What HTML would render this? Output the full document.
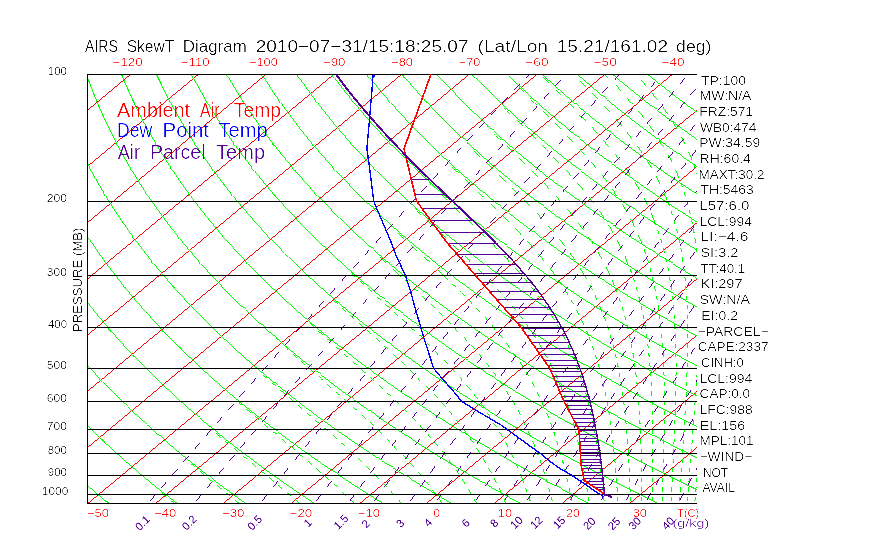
<!DOCTYPE html>
<html><head><meta charset="utf-8"><style>
html,body{margin:0;padding:0;background:#fff;}
svg{display:block;}
text{font-family:"Liberation Sans",sans-serif;}
</style></head><body>
<svg width="870" height="560" viewBox="0 0 870 560">
<defs><filter id="th" x="-5%" y="-30%" width="110%" height="160%"><feComponentTransfer><feFuncA type="linear" slope="2.2" intercept="-1.0"/></feComponentTransfer></filter><filter id="th2" x="-20%" y="-20%" width="140%" height="140%"><feComponentTransfer><feFuncA type="linear" slope="1.5" intercept="-0.2"/></feComponentTransfer></filter><filter id="thl" x="0" y="0" width="1" height="1" color-interpolation-filters="sRGB"><feComponentTransfer><feFuncA type="linear" slope="3" intercept="-0.6"/></feComponentTransfer></filter><clipPath id="box"><rect x="87" y="74" width="610" height="430"/></clipPath></defs>
<rect width="870" height="560" fill="#fff"/>
<g filter="url(#thl)"><g clip-path="url(#box)" fill="none" stroke-width="0.75" shape-rendering="crispEdges">
<g stroke="#ff0000" stroke-width="0.79"><path d="M-725.2,503.7 L-208.2,74.5"/><path d="M-657.5,503.7 L-140.4,74.5"/><path d="M-589.7,503.7 L-72.7,74.5"/><path d="M-522,503.7 L-5,74.5"/><path d="M-454.3,503.7 L62.8,74.5"/><path d="M-386.5,503.7 L130.5,74.5"/><path d="M-318.8,503.7 L198.2,74.5"/><path d="M-251.1,503.7 L265.9,74.5"/><path d="M-183.3,503.7 L333.7,74.5"/><path d="M-115.6,503.7 L401.4,74.5"/><path d="M-47.9,503.7 L469.1,74.5"/><path d="M19.8,503.7 L536.9,74.5"/><path d="M87.6,503.7 L604.6,74.5"/><path d="M155.3,503.7 L672.3,74.5"/><path d="M223,503.7 L740.1,74.5"/><path d="M290.8,503.7 L807.8,74.5"/><path d="M358.5,503.7 L875.5,74.5"/><path d="M426.2,503.7 L943.2,74.5"/><path d="M494,503.7 L1011,74.5"/><path d="M561.7,503.7 L1078.7,74.5"/><path d="M629.4,503.7 L1146.4,74.5"/><path d="M697.1,503.7 L1214.2,74.5"/><path d="M764.9,503.7 L1281.9,74.5"/></g>
<g stroke="#00ff00" stroke-width="0.8"><path d="M108.8,503.7 104.5,500.2 100.3,496.6 96.2,493 92.1,489.4 88,485.9 84,482.3 80,478.7 76.1,475.1 72.3,471.6 68.4,468 64.6,464.4 60.9,460.8 57.2,457.2 53.6,453.7 50,450.1 46.4,446.5 42.9,442.9 39.4,439.4 36,435.8 32.6,432.2 29.3,428.6 26,425 22.7,421.5 19.5,417.9 16.3,414.3 13.2,410.7 10.1,407.2 7.1,403.6 4.1,400 1.1,396.4 -1.8,392.9 -4.7,389.3 -7.6,385.7 -10.4,382.1 -13.1,378.5 -15.8,375 -18.5,371.4"/><path d="M177.5,503.7 172.8,500.2 168.3,496.6 163.7,493 159.2,489.4 154.8,485.9 150.4,482.3 146.1,478.7 141.8,475.1 137.6,471.6 133.4,468 129.2,464.4 125.1,460.8 121.1,457.2 117.1,453.7 113.1,450.1 109.2,446.5 105.3,442.9 101.5,439.4 97.8,435.8 94,432.2 90.3,428.6 86.7,425 83.1,421.5 79.6,417.9 76,414.3 72.6,410.7 69.2,407.2 65.8,403.6 62.5,400 59.2,396.4 55.9,392.9 52.7,389.3 49.5,385.7 46.4,382.1 43.3,378.5 40.3,375 37.3,371.4 34.3,367.8 31.4,364.2 28.5,360.7 25.7,357.1 22.9,353.5 20.2,349.9 17.4,346.4"/><path d="M221.6,485.9 216.8,482.3 212.1,478.7 207.5,475.1 202.9,471.6 198.3,468 193.8,464.4 189.3,460.8 184.9,457.2 180.6,453.7 176.3,450.1 172,446.5 167.8,442.9 163.6,439.4 159.5,435.8 155.4,432.2 151.4,428.6 147.4,425 143.5,421.5 139.6,417.9 135.8,414.3 132,410.7 128.2,407.2 124.5,403.6 120.8,400 117.2,396.4 113.7,392.9 110.1,389.3 106.6,385.7 103.2,382.1 99.8,378.5 96.4,375 93.1,371.4 89.9,367.8 86.6,364.2 83.4,360.7 80.3,357.1 77.2,353.5 74.1,349.9 71.1,346.4 68.1,342.8 65.2,339.2 62.3,335.6 59.4,332 56.6,328.5 53.9,324.9 51.1,321.3 48.4,317.7"/><path d="M253.6,460.8 248.8,457.2 244.1,453.7 239.4,450.1 234.8,446.5 230.2,442.9 225.7,439.4 221.3,435.8 216.8,432.2 212.5,428.6 208.1,425 203.9,421.5 199.6,417.9 195.5,414.3 191.3,410.7 187.3,407.2 183.2,403.6 179.2,400 175.3,396.4 171.4,392.9 167.5,389.3 163.7,385.7 160,382.1 156.3,378.5 152.6,375 149,371.4 145.4,367.8 141.8,364.2 138.3,360.7 134.9,357.1 131.5,353.5 128.1,349.9 124.8,346.4 121.5,342.8 118.3,339.2 115.1,335.6 111.9,332 108.8,328.5 105.8,324.9 102.7,321.3 99.8,317.7 96.8,314.2 93.9,310.6 91,307 88.2,303.4 85.4,299.9 82.7,296.3 80,292.7"/><path d="M283,435.8 278.2,432.2 273.5,428.6 268.9,425 264.3,421.5 259.7,417.9 255.2,414.3 250.7,410.7 246.3,407.2 241.9,403.6 237.6,400 233.4,396.4 229.1,392.9 225,389.3 220.8,385.7 216.7,382.1 212.7,378.5 208.7,375 204.8,371.4 200.9,367.8 197.1,364.2 193.2,360.7 189.5,357.1 185.8,353.5 182.1,349.9 178.5,346.4 174.9,342.8 171.4,339.2 167.9,335.6 164.4,332 161,328.5 157.7,324.9 154.4,321.3 151.1,317.7 147.9,314.2 144.7,310.6 141.5,307 138.4,303.4 135.3,299.9 132.3,296.3 129.3,292.7 126.4,289.1 123.5,285.5 120.6,282 117.8,278.4 115,274.8 112.3,271.2 109.6,267.7"/><path d="M310.1,410.7 305.3,407.2 300.7,403.6 296,400 291.4,396.4 286.9,392.9 282.4,389.3 277.9,385.7 273.5,382.1 269.2,378.5 264.9,375 260.6,371.4 256.4,367.8 252.3,364.2 248.2,360.7 244.1,357.1 240.1,353.5 236.1,349.9 232.2,346.4 228.3,342.8 224.5,339.2 220.7,335.6 216.9,332 213.2,328.5 209.6,324.9 206,321.3 202.4,317.7 198.9,314.2 195.4,310.6 192,307 188.6,303.4 185.3,299.9 182,296.3 178.7,292.7 175.5,289.1 172.3,285.5 169.2,282 166.1,278.4 163,274.8 160,271.2 157,267.7 154.1,264.1 151.2,260.5 148.4,256.9 145.6,253.4 142.8,249.8 140.1,246.2 137.4,242.6"/><path d="M339.8,389.3 335,385.7 330.3,382.1 325.6,378.5 321,375 316.5,371.4 311.9,367.8 307.5,364.2 303.1,360.7 298.7,357.1 294.4,353.5 290.1,349.9 285.9,346.4 281.7,342.8 277.6,339.2 273.5,335.6 269.4,332 265.4,328.5 261.5,324.9 257.6,321.3 253.8,317.7 249.9,314.2 246.2,310.6 242.5,307 238.8,303.4 235.2,299.9 231.6,296.3 228.1,292.7 224.6,289.1 221.1,285.5 217.7,282 214.3,278.4 211,274.8 207.7,271.2 204.5,267.7 201.3,264.1 198.2,260.5 195,256.9 192,253.4 188.9,249.8 186,246.2 183,242.6 180.1,239 177.2,235.5 174.4,231.9 171.6,228.3 168.9,224.7 166.2,221.2"/><path d="M362.7,364.2 358,360.7 353.3,357.1 348.7,353.5 344.1,349.9 339.5,346.4 335.1,342.8 330.6,339.2 326.3,335.6 321.9,332 317.6,328.5 313.4,324.9 309.2,321.3 305.1,317.7 301,314.2 296.9,310.6 293,307 289,303.4 285.1,299.9 281.2,296.3 277.4,292.7 273.6,289.1 269.9,285.5 266.2,282 262.6,278.4 259,274.8 255.5,271.2 252,267.7 248.5,264.1 245.1,260.5 241.7,256.9 238.4,253.4 235.1,249.8 231.9,246.2 228.7,242.6 225.5,239 222.4,235.5 219.3,231.9 216.3,228.3 213.3,224.7 210.3,221.2 207.4,217.6 204.5,214 201.7,210.4 198.9,206.9 196.1,203.3 193.4,199.7"/><path d="M388.5,342.8 383.7,339.2 379.1,335.6 374.4,332 369.9,328.5 365.3,324.9 360.8,321.3 356.4,317.7 352,314.2 347.7,310.6 343.4,307 339.2,303.4 335,299.9 330.9,296.3 326.8,292.7 322.7,289.1 318.7,285.5 314.8,282 310.9,278.4 307,274.8 303.2,271.2 299.4,267.7 295.7,264.1 292,260.5 288.4,256.9 284.8,253.4 281.3,249.8 277.8,246.2 274.3,242.6 270.9,239 267.5,235.5 264.2,231.9 260.9,228.3 257.6,224.7 254.4,221.2 251.3,217.6 248.2,214 245.1,210.4 242.1,206.9 239.1,203.3 236.1,199.7 233.2,196.1 230.3,192.5 227.5,189 224.7,185.4 221.9,181.8 219.2,178.2"/><path d="M417.2,324.9 412.5,321.3 407.8,317.7 403.1,314.2 398.5,310.6 393.9,307 389.4,303.4 384.9,299.9 380.5,296.3 376.1,292.7 371.8,289.1 367.5,285.5 363.3,282 359.1,278.4 355,274.8 350.9,271.2 346.9,267.7 342.9,264.1 339,260.5 335.1,256.9 331.2,253.4 327.4,249.8 323.7,246.2 319.9,242.6 316.3,239 312.6,235.5 309.1,231.9 305.5,228.3 302,224.7 298.6,221.2 295.2,217.6 291.8,214 288.5,210.4 285.2,206.9 282,203.3 278.8,199.7 275.6,196.1 272.5,192.5 269.4,189 266.4,185.4 263.4,181.8 260.5,178.2 257.6,174.7 254.7,171.1 251.9,167.5 249.1,163.9 246.4,160.3 243.7,156.8"/><path d="M439.6,303.4 434.8,299.9 430.1,296.3 425.5,292.7 420.9,289.1 416.4,285.5 411.9,282 407.4,278.4 403,274.8 398.7,271.2 394.4,267.7 390.1,264.1 385.9,260.5 381.7,256.9 377.6,253.4 373.6,249.8 369.5,246.2 365.6,242.6 361.7,239 357.8,235.5 353.9,231.9 350.2,228.3 346.4,224.7 342.7,221.2 339.1,217.6 335.4,214 331.9,210.4 328.4,206.9 324.9,203.3 321.5,199.7 318.1,196.1 314.7,192.5 311.4,189 308.1,185.4 304.9,181.8 301.8,178.2 298.6,174.7 295.5,171.1 292.5,167.5 289.5,163.9 286.5,160.3 283.6,156.8 280.7,153.2 277.8,149.6 275,146 272.2,142.5 269.5,138.9 266.8,135.3"/><path d="M460.4,282 455.7,278.4 451,274.8 446.4,271.2 441.8,267.7 437.3,264.1 432.8,260.5 428.4,256.9 424,253.4 419.7,249.8 415.4,246.2 411.2,242.6 407,239 402.9,235.5 398.8,231.9 394.8,228.3 390.8,224.7 386.8,221.2 382.9,217.6 379.1,214 375.3,210.4 371.5,206.9 367.8,203.3 364.1,199.7 360.5,196.1 356.9,192.5 353.4,189 349.9,185.4 346.4,181.8 343,178.2 339.7,174.7 336.3,171.1 333,167.5 329.8,163.9 326.6,160.3 323.5,156.8 320.3,153.2 317.3,149.6 314.2,146 311.3,142.5 308.3,138.9 305.4,135.3 302.5,131.7 299.7,128.2 296.9,124.6 294.2,121 291.5,117.4"/><path d="M484.5,264.1 479.8,260.5 475.1,256.9 470.5,253.4 465.9,249.8 461.3,246.2 456.9,242.6 452.4,239 448,235.5 443.7,231.9 439.4,228.3 435.2,224.7 431,221.2 426.8,217.6 422.7,214 418.7,210.4 414.7,206.9 410.7,203.3 406.8,199.7 402.9,196.1 399.1,192.5 395.3,189 391.6,185.4 387.9,181.8 384.3,178.2 380.7,174.7 377.1,171.1 373.6,167.5 370.2,163.9 366.7,160.3 363.4,156.8 360,153.2 356.7,149.6 353.5,146 350.3,142.5 347.1,138.9 344,135.3 340.9,131.7 337.9,128.2 334.9,124.6 331.9,121 329,117.4 326.1,113.8 323.3,110.3 320.5,106.7 317.7,103.1 315,99.5"/><path d="M507.2,246.2 502.5,242.6 497.8,239 493.2,235.5 488.6,231.9 484,228.3 479.5,224.7 475.1,221.2 470.7,217.6 466.4,214 462.1,210.4 457.8,206.9 453.6,203.3 449.5,199.7 445.4,196.1 441.3,192.5 437.3,189 433.3,185.4 429.4,181.8 425.5,178.2 421.7,174.7 417.9,171.1 414.2,167.5 410.5,163.9 406.9,160.3 403.3,156.8 399.7,153.2 396.2,149.6 392.7,146 389.3,142.5 385.9,138.9 382.6,135.3 379.3,131.7 376,128.2 372.8,124.6 369.6,121 366.5,117.4 363.4,113.8 360.4,110.3 357.4,106.7 354.4,103.1 351.5,99.5 348.6,96 345.7,92.4 342.9,88.8 340.2,85.2 337.4,81.7 334.8,78.1"/><path d="M528.7,228.3 523.9,224.7 519.2,221.2 514.6,217.6 510,214 505.5,210.4 501,206.9 496.5,203.3 492.2,199.7 487.8,196.1 483.5,192.5 479.3,189 475.1,185.4 470.9,181.8 466.8,178.2 462.8,174.7 458.7,171.1 454.8,167.5 450.9,163.9 447,160.3 443.2,156.8 439.4,153.2 435.6,149.6 432,146 428.3,142.5 424.7,138.9 421.2,135.3 417.6,131.7 414.2,128.2 410.7,124.6 407.4,121 404,117.4 400.7,113.8 397.5,110.3 394.3,106.7 391.1,103.1 388,99.5 384.9,96 381.8,92.4 378.8,88.8 375.8,85.2 372.9,81.7 370,78.1 367.2,74.5"/><path d="M548.9,210.4 544.1,206.9 539.5,203.3 534.8,199.7 530.2,196.1 525.7,192.5 521.2,189 516.8,185.4 512.4,181.8 508.1,178.2 503.8,174.7 499.6,171.1 495.4,167.5 491.2,163.9 487.1,160.3 483.1,156.8 479.1,153.2 475.1,149.6 471.2,146 467.3,142.5 463.5,138.9 459.7,135.3 456,131.7 452.3,128.2 448.7,124.6 445.1,121 441.5,117.4 438,113.8 434.6,110.3 431.1,106.7 427.8,103.1 424.4,99.5 421.1,96 417.9,92.4 414.7,88.8 411.5,85.2 408.4,81.7 405.3,78.1 402.3,74.5"/><path d="M572.7,196.1 567.9,192.5 563.2,189 558.5,185.4 553.9,181.8 549.3,178.2 544.8,174.7 540.4,171.1 535.9,167.5 531.6,163.9 527.2,160.3 523,156.8 518.7,153.2 514.6,149.6 510.4,146 506.3,142.5 502.3,138.9 498.3,135.3 494.4,131.7 490.5,128.2 486.6,124.6 482.8,121 479.1,117.4 475.3,113.8 471.7,110.3 468,106.7 464.5,103.1 460.9,99.5 457.4,96 454,92.4 450.6,88.8 447.2,85.2 443.9,81.7 440.6,78.1 437.4,74.5"/><path d="M590.6,178.2 585.9,174.7 581.2,171.1 576.5,167.5 571.9,163.9 567.4,160.3 562.9,156.8 558.4,153.2 554,149.6 549.7,146 545.4,142.5 541.1,138.9 536.9,135.3 532.7,131.7 528.6,128.2 524.6,124.6 520.5,121 516.6,117.4 512.6,113.8 508.8,110.3 504.9,106.7 501.1,103.1 497.4,99.5 493.7,96 490,92.4 486.4,88.8 482.9,85.2 479.4,81.7 475.9,78.1 472.4,74.5"/><path d="M607.5,160.3 602.8,156.8 598.1,153.2 593.5,149.6 588.9,146 584.4,142.5 579.9,138.9 575.5,135.3 571.1,131.7 566.8,128.2 562.5,124.6 558.3,121 554.1,117.4 550,113.8 545.9,110.3 541.8,106.7 537.8,103.1 533.9,99.5 530,96 526.1,92.4 522.3,88.8 518.5,85.2 514.8,81.7 511.2,78.1 507.5,74.5"/><path d="M628.1,146 623.4,142.5 618.7,138.9 614.1,135.3 609.5,131.7 604.9,128.2 600.5,124.6 596,121 591.6,117.4 587.3,113.8 583,110.3 578.7,106.7 574.5,103.1 570.4,99.5 566.3,96 562.2,92.4 558.2,88.8 554.2,85.2 550.3,81.7 546.4,78.1 542.6,74.5"/><path d="M647.9,131.7 643.1,128.2 638.4,124.6 633.7,121 629.1,117.4 624.6,113.8 620.1,110.3 615.6,106.7 611.2,103.1 606.9,99.5 602.5,96 598.3,92.4 594.1,88.8 589.9,85.2 585.8,81.7 581.7,78.1 577.7,74.5"/><path d="M666.7,117.4 661.9,113.8 657.2,110.3 652.5,106.7 647.9,103.1 643.3,99.5 638.8,96 634.4,92.4 629.9,88.8 625.6,85.2 621.3,81.7 617,78.1 612.8,74.5"/><path d="M684.6,103.1 679.8,99.5 675.1,96 670.4,92.4 665.8,88.8 661.3,85.2 656.7,81.7 652.3,78.1 647.8,74.5"/></g>
<g stroke="#00ff00" stroke-width="0.9"><path d="M-18.5,371.4 -21.2,367.8 -23.8,364.2 -26.4,360.7 -28.9,357.1 -31.4,353.5 -33.8,349.9 -36.3,346.4 -38.6,342.8 -41,339.2 -43.3,335.6 -45.5,332 -47.8,328.5 -50,324.9 -52.1,321.3 -54.3,317.7 -56.3,314.2 -58.4,310.6 -60.4,307 -62.4,303.4 -64.3,299.9 -66.2,296.3 -68.1,292.7 -70,289.1 -71.8,285.5 -73.5,282 -75.3,278.4"/><path d="M17.4,346.4 14.8,342.8 12.1,339.2 9.5,335.6 7,332 4.4,328.5 1.9,324.9 -0.5,321.3 -2.9,317.7 -5.3,314.2 -7.6,310.6 -9.9,307 -12.2,303.4 -14.4,299.9 -16.6,296.3 -18.8,292.7 -20.9,289.1 -23,285.5 -25,282 -27,278.4 -29,274.8 -30.9,271.2 -32.8,267.7 -34.7,264.1 -36.5,260.5 -38.3,256.9 -40.1,253.4 -41.8,249.8"/><path d="M246.1,503.7 241.1,500.2 236.2,496.6 231.3,493 226.4,489.4 221.6,485.9"/><path d="M48.4,317.7 45.8,314.2 43.1,310.6 40.6,307 38,303.4 35.5,299.9 33,296.3 30.6,292.7 28.2,289.1 25.9,285.5 23.5,282 21.3,278.4 19,274.8 16.8,271.2 14.6,267.7 12.5,264.1 10.4,260.5 8.3,256.9 6.3,253.4 4.3,249.8 2.4,246.2 0.5,242.6 -1.4,239 -3.3,235.5 -5.1,231.9 -6.9,228.3 -8.6,224.7"/><path d="M314.8,503.7 309.4,500.2 304.1,496.6 298.8,493 293.6,489.4 288.4,485.9 283.3,482.3 278.2,478.7 273.1,475.1 268.2,471.6 263.3,468 258.4,464.4 253.6,460.8"/><path d="M80,292.7 77.3,289.1 74.7,285.5 72.1,282 69.5,278.4 67,274.8 64.5,271.2 62.1,267.7 59.7,264.1 57.3,260.5 55,256.9 52.7,253.4 50.5,249.8 48.3,246.2 46.1,242.6 43.9,239 41.8,235.5 39.8,231.9 37.7,228.3 35.7,224.7 33.8,221.2 31.8,217.6 30,214 28.1,210.4 26.3,206.9 24.5,203.3 22.7,199.7"/><path d="M383.5,503.7 377.7,500.2 372,496.6 366.3,493 360.7,489.4 355.2,485.9 349.7,482.3 344.2,478.7 338.8,475.1 333.5,471.6 328.2,468 323,464.4 317.8,460.8 312.7,457.2 307.6,453.7 302.6,450.1 297.6,446.5 292.7,442.9 287.8,439.4 283,435.8"/><path d="M109.6,267.7 106.9,264.1 104.3,260.5 101.7,256.9 99.1,253.4 96.6,249.8 94.2,246.2 91.7,242.6 89.3,239 87,235.5 84.7,231.9 82.4,228.3 80.1,224.7 77.9,221.2 75.7,217.6 73.6,214 71.5,210.4 69.4,206.9 67.4,203.3 65.4,199.7 63.4,196.1 61.5,192.5 59.6,189 57.8,185.4 55.9,181.8 54.2,178.2 52.4,174.7"/><path d="M452.2,503.7 446,500.2 439.9,496.6 433.9,493 427.9,489.4 421.9,485.9 416.1,482.3 410.3,478.7 404.5,475.1 398.8,471.6 393.1,468 387.5,464.4 382,460.8 376.5,457.2 371.1,453.7 365.7,450.1 360.4,446.5 355.1,442.9 349.9,439.4 344.8,435.8 339.6,432.2 334.6,428.6 329.6,425 324.6,421.5 319.7,417.9 314.9,414.3 310.1,410.7"/><path d="M137.4,242.6 134.7,239 132.1,235.5 129.5,231.9 127,228.3 124.5,224.7 122,221.2 119.6,217.6 117.2,214 114.9,210.4 112.6,206.9 110.3,203.3 108.1,199.7 105.9,196.1 103.7,192.5 101.6,189 99.5,185.4 97.4,181.8 95.4,178.2 93.4,174.7 91.5,171.1 89.6,167.5 87.7,163.9 85.9,160.3 84,156.8 82.3,153.2 80.5,149.6"/><path d="M520.9,503.7 514.3,500.2 507.8,496.6 501.4,493 495,489.4 488.7,485.9 482.5,482.3 476.3,478.7 470.2,475.1 464.1,471.6 458.1,468 452.1,464.4 446.2,460.8 440.4,457.2 434.6,453.7 428.9,450.1 423.2,446.5 417.6,442.9 412,439.4 406.5,435.8 401.1,432.2 395.7,428.6 390.3,425 385,421.5 379.8,417.9 374.6,414.3 369.5,410.7 364.4,407.2 359.4,403.6 354.4,400 349.5,396.4 344.6,392.9 339.8,389.3"/><path d="M166.2,221.2 163.5,217.6 160.9,214 158.3,210.4 155.7,206.9 153.2,203.3 150.8,199.7 148.3,196.1 145.9,192.5 143.6,189 141.2,185.4 138.9,181.8 136.7,178.2 134.5,174.7 132.3,171.1 130.2,167.5 128,163.9 126,160.3 123.9,156.8 121.9,153.2 120,149.6 118.1,146 116.2,142.5 114.3,138.9 112.5,135.3 110.7,131.7 108.9,128.2"/><path d="M589.6,503.7 582.6,500.2 575.8,496.6 568.9,493 562.2,489.4 555.5,485.9 548.9,482.3 542.3,478.7 535.8,475.1 529.4,471.6 523,468 516.7,464.4 510.4,460.8 504.2,457.2 498.1,453.7 492,450.1 486,446.5 480,442.9 474.1,439.4 468.3,435.8 462.5,432.2 456.7,428.6 451,425 445.4,421.5 439.8,417.9 434.3,414.3 428.8,410.7 423.4,407.2 418.1,403.6 412.8,400 407.5,396.4 402.3,392.9 397.2,389.3 392.1,385.7 387.1,382.1 382.1,378.5 377.2,375 372.3,371.4 367.5,367.8 362.7,364.2"/><path d="M193.4,199.7 190.8,196.1 188.1,192.5 185.5,189 183,185.4 180.4,181.8 178,178.2 175.5,174.7 173.1,171.1 170.7,167.5 168.4,163.9 166.1,160.3 163.8,156.8 161.6,153.2 159.4,149.6 157.3,146 155.2,142.5 153.1,138.9 151.1,135.3 149.1,131.7 147.1,128.2 145.1,124.6 143.2,121 141.4,117.4 139.5,113.8 137.8,110.3 136,106.7"/><path d="M658.2,503.7 650.9,500.2 643.7,496.6 636.5,493 629.4,489.4 622.3,485.9 615.3,482.3 608.4,478.7 601.5,475.1 594.7,471.6 588,468 581.3,464.4 574.7,460.8 568.1,457.2 561.6,453.7 555.2,450.1 548.8,446.5 542.5,442.9 536.2,439.4 530,435.8 523.9,432.2 517.8,428.6 511.8,425 505.8,421.5 499.9,417.9 494,414.3 488.2,410.7 482.5,407.2 476.8,403.6 471.2,400 465.6,396.4 460.1,392.9 454.6,389.3 449.2,385.7 443.9,382.1 438.6,378.5 433.3,375 428.1,371.4 423,367.8 417.9,364.2 412.9,360.7 407.9,357.1 402.9,353.5 398.1,349.9 393.2,346.4 388.5,342.8"/><path d="M219.2,178.2 216.5,174.7 213.9,171.1 211.3,167.5 208.8,163.9 206.2,160.3 203.8,156.8 201.3,153.2 198.9,149.6 196.5,146 194.2,142.5 191.9,138.9 189.6,135.3 187.4,131.7 185.2,128.2 183.1,124.6 181,121 178.9,117.4 176.9,113.8 174.9,110.3 172.9,106.7 170.9,103.1 169,99.5 167.2,96 165.4,92.4 163.6,88.8 161.8,85.2"/><path d="M689.1,485.9 681.7,482.3 674.4,478.7 667.2,475.1 660,471.6 652.9,468 645.9,464.4 638.9,460.8 632,457.2 625.1,453.7 618.3,450.1 611.6,446.5 604.9,442.9 598.3,439.4 591.8,435.8 585.3,432.2 578.8,428.6 572.5,425 566.2,421.5 559.9,417.9 553.7,414.3 547.6,410.7 541.5,407.2 535.5,403.6 529.6,400 523.7,396.4 517.8,392.9 512,389.3 506.3,385.7 500.6,382.1 495,378.5 489.5,375 483.9,371.4 478.5,367.8 473.1,364.2 467.8,360.7 462.5,357.1 457.2,353.5 452,349.9 446.9,346.4 441.8,342.8 436.8,339.2 431.8,335.6 426.9,332 422.1,328.5 417.2,324.9"/><path d="M243.7,156.8 241,153.2 238.4,149.6 235.8,146 233.2,142.5 230.7,138.9 228.2,135.3 225.8,131.7 223.4,128.2 221,124.6 218.7,121 216.4,117.4 214.2,113.8 212,110.3 209.8,106.7 207.6,103.1 205.5,99.5 203.5,96 201.4,92.4 199.4,88.8 197.5,85.2 195.5,81.7 193.6,78.1 191.8,74.5"/><path d="M710.4,464.4 703.1,460.8 695.8,457.2 688.6,453.7 681.5,450.1 674.4,446.5 667.4,442.9 660.4,439.4 653.5,435.8 646.7,432.2 639.9,428.6 633.2,425 626.6,421.5 620,417.9 613.4,414.3 607,410.7 600.6,407.2 594.2,403.6 588,400 581.7,396.4 575.6,392.9 569.5,389.3 563.4,385.7 557.4,382.1 551.5,378.5 545.6,375 539.8,371.4 534,367.8 528.3,364.2 522.7,360.7 517.1,357.1 511.5,353.5 506,349.9 500.6,346.4 495.2,342.8 489.9,339.2 484.6,335.6 479.4,332 474.3,328.5 469.2,324.9 464.1,321.3 459.1,317.7 454.1,314.2 449.2,310.6 444.4,307 439.6,303.4"/><path d="M266.8,135.3 264.2,131.7 261.5,128.2 259,124.6 256.4,121 253.9,117.4 251.5,113.8 249.1,110.3 246.7,106.7 244.3,103.1 242,99.5 239.7,96 237.5,92.4 235.3,88.8 233.1,85.2 231,81.7 228.9,78.1 226.9,74.5"/><path d="M737.2,446.5 729.8,442.9 722.5,439.4 715.3,435.8 708.1,432.2 701,428.6 693.9,425 686.9,421.5 680,417.9 673.2,414.3 666.4,410.7 659.6,407.2 653,403.6 646.3,400 639.8,396.4 633.3,392.9 626.9,389.3 620.5,385.7 614.2,382.1 607.9,378.5 601.7,375 595.6,371.4 589.5,367.8 583.5,364.2 577.6,360.7 571.7,357.1 565.8,353.5 560,349.9 554.3,346.4 548.6,342.8 543,339.2 537.4,335.6 531.9,332 526.5,328.5 521.1,324.9 515.7,321.3 510.4,317.7 505.2,314.2 500,310.6 494.9,307 489.8,303.4 484.8,299.9 479.8,296.3 474.9,292.7 470,289.1 465.2,285.5 460.4,282"/><path d="M291.5,117.4 288.8,113.8 286.2,110.3 283.6,106.7 281,103.1 278.5,99.5 276,96 273.6,92.4 271.2,88.8 268.8,85.2 266.5,81.7 264.2,78.1 261.9,74.5"/><path d="M754.6,425 747.3,421.5 740.1,417.9 732.9,414.3 725.7,410.7 718.7,407.2 711.7,403.6 704.7,400 697.9,396.4 691,392.9 684.3,389.3 677.6,385.7 671,382.1 664.4,378.5 657.9,375 651.4,371.4 645.1,367.8 638.7,364.2 632.5,360.7 626.3,357.1 620.1,353.5 614,349.9 608,346.4 602,342.8 596.1,339.2 590.2,335.6 584.4,332 578.7,328.5 573,324.9 567.3,321.3 561.8,317.7 556.2,314.2 550.8,310.6 545.3,307 540,303.4 534.7,299.9 529.4,296.3 524.2,292.7 519.1,289.1 514,285.5 508.9,282 503.9,278.4 499,274.8 494.1,271.2 489.3,267.7 484.5,264.1"/><path d="M315,99.5 312.3,96 309.7,92.4 307.1,88.8 304.5,85.2 302,81.7 299.5,78.1 297,74.5"/><path d="M777.7,407.2 770.4,403.6 763.1,400 755.9,396.4 748.8,392.9 741.7,389.3 734.7,385.7 727.7,382.1 720.9,378.5 714,375 707.3,371.4 700.6,367.8 693.9,364.2 687.4,360.7 680.8,357.1 674.4,353.5 668,349.9 661.7,346.4 655.4,342.8 649.2,339.2 643,335.6 636.9,332 630.9,328.5 624.9,324.9 619,321.3 613.1,317.7 607.3,314.2 601.5,310.6 595.8,307 590.2,303.4 584.6,299.9 579.1,296.3 573.6,292.7 568.2,289.1 562.8,285.5 557.5,282 552.2,278.4 547,274.8 541.9,271.2 536.8,267.7 531.7,264.1 526.7,260.5 521.8,256.9 516.9,253.4 512,249.8 507.2,246.2"/><path d="M334.8,78.1 332.1,74.5"/><path d="M799.1,389.3 791.8,385.7 784.5,382.1 777.3,378.5 770.2,375 763.1,371.4 756.1,367.8 749.1,364.2 742.3,360.7 735.4,357.1 728.7,353.5 722,349.9 715.3,346.4 708.8,342.8 702.3,339.2 695.8,335.6 689.4,332 683.1,328.5 676.8,324.9 670.6,321.3 664.4,317.7 658.3,314.2 652.3,310.6 646.3,307 640.4,303.4 634.5,299.9 628.7,296.3 622.9,292.7 617.2,289.1 611.6,285.5 606,282 600.5,278.4 595,274.8 589.6,271.2 584.2,267.7 578.9,264.1 573.6,260.5 568.4,256.9 563.3,253.4 558.2,249.8 553.1,246.2 548.1,242.6 543.2,239 538.3,235.5 533.5,231.9 528.7,228.3"/><path d="M818.9,371.4 811.6,367.8 804.4,364.2 797.2,360.7 790,357.1 783,353.5 776,349.9 769,346.4 762.2,342.8 755.3,339.2 748.6,335.6 741.9,332 735.3,328.5 728.7,324.9 722.2,321.3 715.8,317.7 709.4,314.2 703.1,310.6 696.8,307 690.6,303.4 684.4,299.9 678.3,296.3 672.3,292.7 666.3,289.1 660.4,285.5 654.6,282 648.8,278.4 643,274.8 637.3,271.2 631.7,267.7 626.1,264.1 620.6,260.5 615.1,256.9 609.7,253.4 604.3,249.8 599,246.2 593.8,242.6 588.6,239 583.4,235.5 578.3,231.9 573.3,228.3 568.3,224.7 563.4,221.2 558.5,217.6 553.7,214 548.9,210.4"/><path d="M844.6,357.1 837.3,353.5 830,349.9 822.7,346.4 815.5,342.8 808.4,339.2 801.4,335.6 794.4,332 787.5,328.5 780.6,324.9 773.8,321.3 767.1,317.7 760.4,314.2 753.8,310.6 747.3,307 740.8,303.4 734.3,299.9 728,296.3 721.7,292.7 715.4,289.1 709.2,285.5 703.1,282 697,278.4 691,274.8 685,271.2 679.1,267.7 673.3,264.1 667.5,260.5 661.8,256.9 656.1,253.4 650.5,249.8 644.9,246.2 639.4,242.6 634,239 628.6,235.5 623.2,231.9 617.9,228.3 612.7,224.7 607.5,221.2 602.4,217.6 597.3,214 592.3,210.4 587.3,206.9 582.4,203.3 577.5,199.7 572.7,196.1"/><path d="M861.5,339.2 854.2,335.6 846.9,332 839.7,328.5 832.5,324.9 825.5,321.3 818.4,317.7 811.5,314.2 804.6,310.6 797.7,307 791,303.4 784.3,299.9 777.6,296.3 771,292.7 764.5,289.1 758,285.5 751.6,282 745.3,278.4 739,274.8 732.8,271.2 726.6,267.7 720.5,264.1 714.5,260.5 708.5,256.9 702.5,253.4 696.6,249.8 690.8,246.2 685.1,242.6 679.4,239 673.7,235.5 668.1,231.9 662.6,228.3 657.1,224.7 651.6,221.2 646.3,217.6 640.9,214 635.7,210.4 630.5,206.9 625.3,203.3 620.2,199.7 615.1,196.1 610.1,192.5 605.2,189 600.3,185.4 595.4,181.8 590.6,178.2"/><path d="M884.5,324.9 877.1,321.3 869.8,317.7 862.5,314.2 855.3,310.6 848.2,307 841.2,303.4 834.2,299.9 827.3,296.3 820.4,292.7 813.6,289.1 806.9,285.5 800.2,282 793.6,278.4 787,274.8 780.5,271.2 774.1,267.7 767.7,264.1 761.4,260.5 755.1,256.9 748.9,253.4 742.8,249.8 736.7,246.2 730.7,242.6 724.7,239 718.8,235.5 713,231.9 707.2,228.3 701.5,224.7 695.8,221.2 690.1,217.6 684.6,214 679.1,210.4 673.6,206.9 668.2,203.3 662.9,199.7 657.6,196.1 652.3,192.5 647.1,189 642,185.4 636.9,181.8 631.9,178.2 626.9,174.7 622,171.1 617.1,167.5 612.3,163.9 607.5,160.3"/><path d="M898.7,307 891.4,303.4 884.1,299.9 876.9,296.3 869.8,292.7 862.7,289.1 855.7,285.5 848.7,282 841.8,278.4 835,274.8 828.2,271.2 821.5,267.7 814.9,264.1 808.3,260.5 801.8,256.9 795.4,253.4 789,249.8 782.6,246.2 776.3,242.6 770.1,239 764,235.5 757.9,231.9 751.8,228.3 745.8,224.7 739.9,221.2 734,217.6 728.2,214 722.5,210.4 716.8,206.9 711.1,203.3 705.5,199.7 700,196.1 694.5,192.5 689.1,189 683.7,185.4 678.4,181.8 673.1,178.2 667.9,174.7 662.8,171.1 657.7,167.5 652.6,163.9 647.6,160.3 642.7,156.8 637.8,153.2 632.9,149.6 628.1,146"/><path d="M919.1,292.7 911.8,289.1 904.5,285.5 897.3,282 890.1,278.4 883,274.8 876,271.2 869,267.7 862.1,264.1 855.3,260.5 848.5,256.9 841.8,253.4 835.1,249.8 828.5,246.2 822,242.6 815.5,239 809.1,235.5 802.7,231.9 796.4,228.3 790.2,224.7 784,221.2 777.9,217.6 771.9,214 765.9,210.4 759.9,206.9 754,203.3 748.2,199.7 742.4,196.1 736.7,192.5 731.1,189 725.5,185.4 719.9,181.8 714.4,178.2 709,174.7 703.6,171.1 698.3,167.5 693,163.9 687.8,160.3 682.6,156.8 677.5,153.2 672.4,149.6 667.4,146 662.4,142.5 657.5,138.9 652.7,135.3 647.9,131.7"/><path d="M938.4,278.4 931,274.8 923.7,271.2 916.5,267.7 909.3,264.1 902.2,260.5 895.2,256.9 888.2,253.4 881.3,249.8 874.4,246.2 867.6,242.6 860.9,239 854.2,235.5 847.6,231.9 841.1,228.3 834.6,224.7 828.2,221.2 821.8,217.6 815.5,214 809.3,210.4 803.1,206.9 796.9,203.3 790.9,199.7 784.9,196.1 778.9,192.5 773,189 767.2,185.4 761.4,181.8 755.7,178.2 750,174.7 744.4,171.1 738.8,167.5 733.3,163.9 727.9,160.3 722.5,156.8 717.1,153.2 711.9,149.6 706.6,146 701.4,142.5 696.3,138.9 691.2,135.3 686.2,131.7 681.3,128.2 676.3,124.6 671.5,121 666.7,117.4"/><path d="M956.5,264.1 949.1,260.5 941.8,256.9 934.6,253.4 927.4,249.8 920.3,246.2 913.3,242.6 906.3,239 899.4,235.5 892.5,231.9 885.7,228.3 879,224.7 872.3,221.2 865.7,217.6 859.1,214 852.7,210.4 846.2,206.9 839.9,203.3 833.6,199.7 827.3,196.1 821.1,192.5 815,189 808.9,185.4 802.9,181.8 796.9,178.2 791,174.7 785.2,171.1 779.4,167.5 773.7,163.9 768,160.3 762.4,156.8 756.8,153.2 751.3,149.6 745.9,146 740.5,142.5 735.1,138.9 729.8,135.3 724.6,131.7 719.4,128.2 714.3,124.6 709.2,121 704.2,117.4 699.2,113.8 694.3,110.3 689.4,106.7 684.6,103.1"/></g>
<g stroke="#00ff00" stroke-width="1.0"><path d="M-75.3,278.4 -77,274.8 -78.6,271.2 -80.3,267.7 -81.9,264.1 -83.5,260.5 -85,256.9 -86.5,253.4 -88,249.8 -89.4,246.2 -90.8,242.6 -92.2,239 -93.6,235.5 -94.9,231.9 -96.1,228.3 -97.4,224.7 -98.6,221.2 -99.8,217.6 -101,214 -102.1,210.4 -103.2,206.9 -104.3,203.3 -105.3,199.7 -106.3,196.1 -107.3,192.5 -108.2,189 -109.2,185.4 -110,181.8 -110.9,178.2 -111.7,174.7 -112.5,171.1 -113.3,167.5 -114.1,163.9 -114.8,160.3 -115.5,156.8 -116.1,153.2 -116.8,149.6 -117.4,146 -118,142.5 -118.5,138.9 -119,135.3 -119.5,131.7 -120,128.2 -120.4,124.6 -120.9,121 -121.3,117.4 -121.6,113.8 -122,110.3 -122.3,106.7 -122.6,103.1 -122.8,99.5 -123.1,96 -123.3,92.4 -123.5,88.8 -123.6,85.2 -123.8,81.7 -123.9,78.1 -124,74.5"/><path d="M-41.8,249.8 -43.5,246.2 -45.2,242.6 -46.8,239 -48.4,235.5 -50,231.9 -51.5,228.3 -53,224.7 -54.5,221.2 -55.9,217.6 -57.3,214 -58.7,210.4 -60,206.9 -61.3,203.3 -62.6,199.7 -63.9,196.1 -65.1,192.5 -66.3,189 -67.4,185.4 -68.5,181.8 -69.6,178.2 -70.7,174.7 -71.7,171.1 -72.7,167.5 -73.7,163.9 -74.7,160.3 -75.6,156.8 -76.5,153.2 -77.3,149.6 -78.1,146 -78.9,142.5 -79.7,138.9 -80.4,135.3 -81.2,131.7 -81.8,128.2 -82.5,124.6 -83.1,121 -83.7,117.4 -84.3,113.8 -84.9,110.3 -85.4,106.7 -85.9,103.1 -86.3,99.5 -86.8,96 -87.2,92.4 -87.6,88.8 -87.9,85.2 -88.3,81.7 -88.6,78.1 -88.9,74.5"/><path d="M-8.6,224.7 -10.4,221.2 -12,217.6 -13.7,214 -15.3,210.4 -16.9,206.9 -18.4,203.3 -19.9,199.7 -21.4,196.1 -22.9,192.5 -24.3,189 -25.7,185.4 -27,181.8 -28.4,178.2 -29.7,174.7 -30.9,171.1 -32.2,167.5 -33.4,163.9 -34.5,160.3 -35.7,156.8 -36.8,153.2 -37.9,149.6 -38.9,146 -39.9,142.5 -40.9,138.9 -41.9,135.3 -42.8,131.7 -43.7,128.2 -44.6,124.6 -45.4,121 -46.2,117.4 -47,113.8 -47.8,110.3 -48.5,106.7 -49.2,103.1 -49.9,99.5 -50.5,96 -51.1,92.4 -51.7,88.8 -52.3,85.2 -52.8,81.7 -53.3,78.1 -53.8,74.5"/><path d="M22.7,199.7 21,196.1 19.3,192.5 17.7,189 16,185.4 14.4,181.8 12.9,178.2 11.4,174.7 9.9,171.1 8.4,167.5 7,163.9 5.6,160.3 4.2,156.8 2.9,153.2 1.6,149.6 0.3,146 -0.9,142.5 -2.1,138.9 -3.3,135.3 -4.4,131.7 -5.5,128.2 -6.6,124.6 -7.7,121 -8.7,117.4 -9.7,113.8 -10.7,110.3 -11.6,106.7 -12.5,103.1 -13.4,99.5 -14.2,96 -15,92.4 -15.8,88.8 -16.6,85.2 -17.3,81.7 -18,78.1 -18.7,74.5"/><path d="M52.4,174.7 50.7,171.1 49,167.5 47.3,163.9 45.7,160.3 44.1,156.8 42.6,153.2 41.1,149.6 39.6,146 38.1,142.5 36.7,138.9 35.3,135.3 33.9,131.7 32.6,128.2 31.3,124.6 30.1,121 28.8,117.4 27.6,113.8 26.4,110.3 25.3,106.7 24.2,103.1 23.1,99.5 22.1,96 21,92.4 20,88.8 19.1,85.2 18.2,81.7 17.3,78.1 16.4,74.5"/><path d="M80.5,149.6 78.8,146 77.1,142.5 75.5,138.9 73.9,135.3 72.3,131.7 70.8,128.2 69.3,124.6 67.8,121 66.3,117.4 64.9,113.8 63.5,110.3 62.2,106.7 60.9,103.1 59.6,99.5 58.3,96 57.1,92.4 55.9,88.8 54.8,85.2 53.6,81.7 52.5,78.1 51.5,74.5"/><path d="M108.9,128.2 107.2,124.6 105.5,121 103.9,117.4 102.2,113.8 100.7,110.3 99.1,106.7 97.6,103.1 96.1,99.5 94.6,96 93.2,92.4 91.8,88.8 90.4,85.2 89.1,81.7 87.8,78.1 86.5,74.5"/><path d="M136,106.7 134.3,103.1 132.6,99.5 130.9,96 129.3,92.4 127.7,88.8 126.1,85.2 124.6,81.7 123.1,78.1 121.6,74.5"/><path d="M161.8,85.2 160.1,81.7 158.4,78.1 156.7,74.5"/><path d="M726.9,503.7 719.2,500.2 711.6,496.6 704,493 696.5,489.4 689.1,485.9"/><path d="M795.6,503.7 787.5,500.2 779.5,496.6 771.6,493 763.7,489.4 755.9,485.9 748.1,482.3 740.5,478.7 732.9,475.1 725.3,471.6 717.8,468 710.4,464.4"/><path d="M864.3,503.7 855.8,500.2 847.4,496.6 839.1,493 830.8,489.4 822.7,485.9 814.5,482.3 806.5,478.7 798.5,475.1 790.6,471.6 782.8,468 775,464.4 767.3,460.8 759.7,457.2 752.1,453.7 744.6,450.1 737.2,446.5"/><path d="M933,503.7 924.1,500.2 915.3,496.6 906.6,493 898,489.4 889.4,485.9 881,482.3 872.5,478.7 864.2,475.1 855.9,471.6 847.7,468 839.6,464.4 831.5,460.8 823.5,457.2 815.6,453.7 807.8,450.1 800,446.5 792.2,442.9 784.6,439.4 777,435.8 769.5,432.2 762,428.6 754.6,425"/><path d="M1001.6,503.7 992.4,500.2 983.2,496.6 974.2,493 965.2,489.4 956.2,485.9 947.4,482.3 938.6,478.7 929.9,475.1 921.2,471.6 912.7,468 904.2,464.4 895.8,460.8 887.4,457.2 879.1,453.7 870.9,450.1 862.8,446.5 854.7,442.9 846.7,439.4 838.8,435.8 830.9,432.2 823.1,428.6 815.4,425 807.7,421.5 800.1,417.9 792.6,414.3 785.1,410.7 777.7,407.2"/><path d="M1070.3,503.7 1060.7,500.2 1051.2,496.6 1041.7,493 1032.3,489.4 1023,485.9 1013.8,482.3 1004.6,478.7 995.5,475.1 986.5,471.6 977.6,468 968.8,464.4 960,460.8 951.3,457.2 942.6,453.7 934.1,450.1 925.6,446.5 917.1,442.9 908.8,439.4 900.5,435.8 892.3,432.2 884.2,428.6 876.1,425 868.1,421.5 860.2,417.9 852.3,414.3 844.5,410.7 836.8,407.2 829.1,403.6 821.5,400 814,396.4 806.5,392.9 799.1,389.3"/><path d="M1139,503.7 1129,500.2 1119.1,496.6 1109.2,493 1099.5,489.4 1089.8,485.9 1080.2,482.3 1070.7,478.7 1061.2,475.1 1051.8,471.6 1042.6,468 1033.3,464.4 1024.2,460.8 1015.1,457.2 1006.1,453.7 997.2,450.1 988.4,446.5 979.6,442.9 970.9,439.4 962.3,435.8 953.7,432.2 945.2,428.6 936.8,425 928.5,421.5 920.2,417.9 912,414.3 903.9,410.7 895.8,407.2 887.8,403.6 879.9,400 872,396.4 864.3,392.9 856.5,389.3 848.9,385.7 841.3,382.1 833.8,378.5 826.3,375 818.9,371.4"/><path d="M1207.7,503.7 1197.3,500.2 1187,496.6 1176.8,493 1166.6,489.4 1156.6,485.9 1146.6,482.3 1136.7,478.7 1126.9,475.1 1117.2,471.6 1107.5,468 1097.9,464.4 1088.4,460.8 1079,457.2 1069.6,453.7 1060.4,450.1 1051.2,446.5 1042,442.9 1033,439.4 1024,435.8 1015.1,432.2 1006.3,428.6 997.5,425 988.9,421.5 980.2,417.9 971.7,414.3 963.2,410.7 954.9,407.2 946.5,403.6 938.3,400 930.1,396.4 922,392.9 913.9,389.3 906,385.7 898.1,382.1 890.2,378.5 882.5,375 874.8,371.4 867.1,367.8 859.6,364.2 852.1,360.7 844.6,357.1"/><path d="M1276.4,503.7 1265.6,500.2 1254.9,496.6 1244.3,493 1233.8,489.4 1223.4,485.9 1213,482.3 1202.8,478.7 1192.6,475.1 1182.5,471.6 1172.4,468 1162.5,464.4 1152.6,460.8 1142.8,457.2 1133.1,453.7 1123.5,450.1 1114,446.5 1104.5,442.9 1095.1,439.4 1085.8,435.8 1076.5,432.2 1067.3,428.6 1058.3,425 1049.2,421.5 1040.3,417.9 1031.4,414.3 1022.6,410.7 1013.9,407.2 1005.2,403.6 996.7,400 988.2,396.4 979.7,392.9 971.4,389.3 963.1,385.7 954.8,382.1 946.7,378.5 938.6,375 930.6,371.4 922.7,367.8 914.8,364.2 907,360.7 899.2,357.1 891.6,353.5 883.9,349.9 876.4,346.4 868.9,342.8 861.5,339.2"/><path d="M1345,503.7 1333.9,500.2 1322.8,496.6 1311.9,493 1301,489.4 1290.2,485.9 1279.4,482.3 1268.8,478.7 1258.2,475.1 1247.8,471.6 1237.4,468 1227.1,464.4 1216.8,460.8 1206.7,457.2 1196.6,453.7 1186.7,450.1 1176.7,446.5 1166.9,442.9 1157.2,439.4 1147.5,435.8 1137.9,432.2 1128.4,428.6 1119,425 1109.6,421.5 1100.3,417.9 1091.1,414.3 1082,410.7 1072.9,407.2 1064,403.6 1055.1,400 1046.2,396.4 1037.5,392.9 1028.8,389.3 1020.2,385.7 1011.6,382.1 1003.2,378.5 994.8,375 986.4,371.4 978.2,367.8 970,364.2 961.9,360.7 953.8,357.1 945.8,353.5 937.9,349.9 930.1,346.4 922.3,342.8 914.6,339.2 907,335.6 899.4,332 891.9,328.5 884.5,324.9"/><path d="M1413.7,503.7 1402.2,500.2 1390.7,496.6 1379.4,493 1368.1,489.4 1356.9,485.9 1345.8,482.3 1334.8,478.7 1323.9,475.1 1313.1,471.6 1302.3,468 1291.6,464.4 1281.1,460.8 1270.6,457.2 1260.1,453.7 1249.8,450.1 1239.5,446.5 1229.4,442.9 1219.3,439.4 1209.3,435.8 1199.3,432.2 1189.5,428.6 1179.7,425 1170,421.5 1160.4,417.9 1150.8,414.3 1141.4,410.7 1132,407.2 1122.7,403.6 1113.4,400 1104.3,396.4 1095.2,392.9 1086.2,389.3 1077.3,385.7 1068.4,382.1 1059.6,378.5 1050.9,375 1042.3,371.4 1033.7,367.8 1025.2,364.2 1016.8,360.7 1008.4,357.1 1000.1,353.5 991.9,349.9 983.8,346.4 975.7,342.8 967.7,339.2 959.8,335.6 951.9,332 944.1,328.5 936.4,324.9 928.7,321.3 921.1,317.7 913.6,314.2 906.1,310.6 898.7,307"/><path d="M1482.4,503.7 1470.5,500.2 1458.7,496.6 1446.9,493 1435.3,489.4 1423.7,485.9 1412.3,482.3 1400.9,478.7 1389.6,475.1 1378.4,471.6 1367.3,468 1356.2,464.4 1345.3,460.8 1334.4,457.2 1323.6,453.7 1312.9,450.1 1302.3,446.5 1291.8,442.9 1281.4,439.4 1271,435.8 1260.7,432.2 1250.5,428.6 1240.4,425 1230.4,421.5 1220.4,417.9 1210.6,414.3 1200.8,410.7 1191,407.2 1181.4,403.6 1171.8,400 1162.4,396.4 1152.9,392.9 1143.6,389.3 1134.4,385.7 1125.2,382.1 1116.1,378.5 1107,375 1098.1,371.4 1089.2,367.8 1080.4,364.2 1071.7,360.7 1063,357.1 1054.4,353.5 1045.9,349.9 1037.5,346.4 1029.1,342.8 1020.8,339.2 1012.6,335.6 1004.4,332 996.3,328.5 988.3,324.9 980.3,321.3 972.4,317.7 964.6,314.2 956.9,310.6 949.2,307 941.6,303.4 934,299.9 926.5,296.3 919.1,292.7"/><path d="M1551.1,503.7 1538.8,500.2 1526.6,496.6 1514.5,493 1502.4,489.4 1490.5,485.9 1478.7,482.3 1466.9,478.7 1455.3,475.1 1443.7,471.6 1432.2,468 1420.8,464.4 1409.5,460.8 1398.3,457.2 1387.1,453.7 1376.1,450.1 1365.1,446.5 1354.3,442.9 1343.5,439.4 1332.8,435.8 1322.1,432.2 1311.6,428.6 1301.1,425 1290.8,421.5 1280.5,417.9 1270.3,414.3 1260.1,410.7 1250.1,407.2 1240.1,403.6 1230.2,400 1220.4,396.4 1210.7,392.9 1201,389.3 1191.5,385.7 1182,382.1 1172.5,378.5 1163.2,375 1153.9,371.4 1144.7,367.8 1135.6,364.2 1126.6,360.7 1117.6,357.1 1108.7,353.5 1099.9,349.9 1091.1,346.4 1082.5,342.8 1073.9,339.2 1065.3,335.6 1056.9,332 1048.5,328.5 1040.2,324.9 1031.9,321.3 1023.8,317.7 1015.7,314.2 1007.6,310.6 999.7,307 991.8,303.4 983.9,299.9 976.2,296.3 968.5,292.7 960.9,289.1 953.3,285.5 945.8,282 938.4,278.4"/><path d="M1619.8,503.7 1607.1,500.2 1594.5,496.6 1582,493 1569.6,489.4 1557.3,485.9 1545.1,482.3 1533,478.7 1520.9,475.1 1509,471.6 1497.1,468 1485.4,464.4 1473.7,460.8 1462.1,457.2 1450.6,453.7 1439.2,450.1 1427.9,446.5 1416.7,442.9 1405.6,439.4 1394.5,435.8 1383.5,432.2 1372.7,428.6 1361.9,425 1351.2,421.5 1340.5,417.9 1330,414.3 1319.5,410.7 1309.1,407.2 1298.8,403.6 1288.6,400 1278.5,396.4 1268.4,392.9 1258.4,389.3 1248.5,385.7 1238.7,382.1 1229,378.5 1219.3,375 1209.8,371.4 1200.3,367.8 1190.8,364.2 1181.5,360.7 1172.2,357.1 1163,353.5 1153.9,349.9 1144.8,346.4 1135.9,342.8 1127,339.2 1118.1,335.6 1109.4,332 1100.7,328.5 1092.1,324.9 1083.6,321.3 1075.1,317.7 1066.7,314.2 1058.4,310.6 1050.1,307 1042,303.4 1033.9,299.9 1025.8,296.3 1017.8,292.7 1009.9,289.1 1002.1,285.5 994.3,282 986.6,278.4 979,274.8 971.4,271.2 963.9,267.7 956.5,264.1"/></g>
<g stroke="#00ff00" stroke-width="1.0" stroke-dasharray="4.2 5.4" stroke-dashoffset="7.1"><path d="M-89.4,246.2 -90.8,242.6 -92.2,239 -93.6,235.5 -94.9,231.9 -96.1,228.3 -97.4,224.7 -98.6,221.2 -99.8,217.6 -101,214 -102.1,210.4 -103.2,206.9 -104.3,203.3 -105.3,199.7 -106.3,196.1 -107.3,192.5 -108.2,189 -109.2,185.4 -110,181.8 -110.9,178.2 -111.7,174.7 -112.5,171.1 -113.3,167.5 -114.1,163.9 -114.8,160.3 -115.5,156.8 -116.1,153.2 -116.8,149.6 -117.4,146 -118,142.5 -118.5,138.9 -119,135.3 -119.5,131.7 -120,128.2 -120.4,124.6 -120.9,121 -121.3,117.4 -121.6,113.8"/><path d="M-55.9,217.6 -57.3,214 -58.7,210.4 -60,206.9 -61.3,203.3 -62.6,199.7 -63.9,196.1 -65.1,192.5 -66.3,189 -67.4,185.4 -68.5,181.8 -69.6,178.2 -70.7,174.7 -71.7,171.1 -72.7,167.5 -73.7,163.9 -74.7,160.3 -75.6,156.8 -76.5,153.2 -77.3,149.6 -78.1,146 -78.9,142.5 -79.7,138.9 -80.4,135.3 -81.2,131.7 -81.8,128.2 -82.5,124.6 -83.1,121 -83.7,117.4 -84.3,113.8 -84.9,110.3 -85.4,106.7 -85.9,103.1 -86.3,99.5 -86.8,96 -87.2,92.4 -87.6,88.8"/><path d="M-22.9,192.5 -24.3,189 -25.7,185.4 -27,181.8 -28.4,178.2 -29.7,174.7 -30.9,171.1 -32.2,167.5 -33.4,163.9 -34.5,160.3 -35.7,156.8 -36.8,153.2 -37.9,149.6 -38.9,146 -39.9,142.5 -40.9,138.9 -41.9,135.3 -42.8,131.7 -43.7,128.2 -44.6,124.6 -45.4,121 -46.2,117.4 -47,113.8 -47.8,110.3 -48.5,106.7 -49.2,103.1 -49.9,99.5 -50.5,96 -51.1,92.4 -51.7,88.8 -52.3,85.2 -52.8,81.7 -53.3,78.1 -53.8,74.5"/><path d="M8.4,167.5 7,163.9 5.6,160.3 4.2,156.8 2.9,153.2 1.6,149.6 0.3,146 -0.9,142.5 -2.1,138.9 -3.3,135.3 -4.4,131.7 -5.5,128.2 -6.6,124.6 -7.7,121 -8.7,117.4 -9.7,113.8 -10.7,110.3 -11.6,106.7 -12.5,103.1 -13.4,99.5 -14.2,96 -15,92.4 -15.8,88.8 -16.6,85.2 -17.3,81.7 -18,78.1 -18.7,74.5"/><path d="M38.1,142.5 36.7,138.9 35.3,135.3 33.9,131.7 32.6,128.2 31.3,124.6 30.1,121 28.8,117.4 27.6,113.8 26.4,110.3 25.3,106.7 24.2,103.1 23.1,99.5 22.1,96 21,92.4 20,88.8 19.1,85.2 18.2,81.7 17.3,78.1 16.4,74.5"/><path d="M66.3,117.4 64.9,113.8 63.5,110.3 62.2,106.7 60.9,103.1 59.6,99.5 58.3,96 57.1,92.4 55.9,88.8 54.8,85.2 53.6,81.7 52.5,78.1 51.5,74.5"/><path d="M94.6,96 93.2,92.4 91.8,88.8 90.4,85.2 89.1,81.7 87.8,78.1 86.5,74.5"/><path d="M531.1,503.7 529.9,500.2 528.7,496.6 527.5,493 526.2,489.4 524.9,485.9 523.5,482.3 522.1,478.7"/><path d="M552.9,503.7 552,500.2 551.1,496.6 550.2,493 549.2,489.4 548.2,485.9 547.1,482.3 546.1,478.7 545,475.1 543.9,471.6 542.7,468 541.5,464.4 540.3,460.8 539,457.2 537.7,453.7 536.3,450.1 534.9,446.5"/><path d="M572.1,503.7 571.4,500.2 570.7,496.6 570,493 569.3,489.4 568.5,485.9 567.8,482.3 567,478.7 566.1,475.1 565.3,471.6 564.4,468 563.5,464.4 562.6,460.8 561.6,457.2 560.6,453.7 559.6,450.1 558.5,446.5 557.4,442.9 556.3,439.4 555.1,435.8 553.9,432.2 552.7,428.6 551.4,425 550,421.5 548.6,417.9"/><path d="M589.1,503.7 588.6,500.2 588.1,496.6 587.6,493 587,489.4 586.5,485.9 585.9,482.3 585.4,478.7 584.8,475.1 584.1,471.6 583.5,468 582.8,464.4 582.1,460.8 581.4,457.2 580.7,453.7 579.9,450.1 579.2,446.5 578.3,442.9 577.5,439.4 576.6,435.8 575.7,432.2 574.8,428.6 573.8,425 572.8,421.5 571.8,417.9 570.7,414.3 569.5,410.7 568.4,407.2 567.2,403.6 565.9,400 564.6,396.4 563.3,392.9 561.9,389.3"/><path d="M604.3,503.7 604,500.2 603.6,496.6 603.3,493 602.9,489.4 602.5,485.9 602.1,482.3 601.7,478.7 601.3,475.1 600.8,471.6 600.4,468 599.9,464.4 599.4,460.8 598.9,457.2 598.4,453.7 597.9,450.1 597.3,446.5 596.7,442.9 596.1,439.4 595.5,435.8 594.8,432.2 594.1,428.6 593.4,425 592.7,421.5 591.9,417.9 591.1,414.3 590.3,410.7 589.4,407.2 588.6,403.6 587.6,400 586.7,396.4 585.7,392.9 584.6,389.3 583.5,385.7 582.4,382.1 581.2,378.5 580,375 578.7,371.4 577.4,367.8 576.1,364.2 574.7,360.7"/><path d="M618,503.7 617.8,500.2 617.6,496.6 617.4,493 617.1,489.4 616.9,485.9 616.6,482.3 616.4,478.7 616.1,475.1 615.8,471.6 615.5,468 615.2,464.4 614.9,460.8 614.5,457.2 614.2,453.7 613.8,450.1 613.4,446.5 613,442.9 612.6,439.4 612.2,435.8 611.7,432.2 611.3,428.6 610.8,425 610.3,421.5 609.7,417.9 609.2,414.3 608.6,410.7 608,407.2 607.3,403.6 606.7,400 606,396.4 605.2,392.9 604.5,389.3 603.7,385.7 602.9,382.1 602,378.5 601.1,375 600.2,371.4 599.2,367.8 598.2,364.2 597.1,360.7 596,357.1 594.9,353.5 593.7,349.9 592.4,346.4 591.1,342.8 589.8,339.2 588.4,335.6"/><path d="M630.5,503.7 630.4,500.2 630.3,496.6 630.1,493 630,489.4 629.9,485.9 629.8,482.3 629.6,478.7 629.5,475.1 629.3,471.6 629.1,468 629,464.4 628.8,460.8 628.6,457.2 628.4,453.7 628.1,450.1 627.9,446.5 627.7,442.9 627.4,439.4 627.1,435.8 626.9,432.2 626.6,428.6 626.2,425 625.9,421.5 625.5,417.9 625.2,414.3 624.8,410.7 624.4,407.2 623.9,403.6 623.5,400 623,396.4 622.5,392.9 622,389.3 621.4,385.7 620.9,382.1 620.3,378.5 619.6,375 619,371.4 618.3,367.8 617.5,364.2 616.8,360.7 616,357.1 615.1,353.5 614.2,349.9 613.3,346.4 612.4,342.8 611.4,339.2 610.3,335.6 609.2,332 608.1,328.5 606.9,324.9 605.7,321.3 604.4,317.7 603,314.2 601.6,310.6"/><path d="M641.9,503.7 641.9,500.2 641.8,496.6 641.8,493 641.8,489.4 641.8,485.9 641.7,482.3 641.7,478.7 641.6,475.1 641.6,471.6 641.5,468 641.4,464.4 641.4,460.8 641.3,457.2 641.2,453.7 641.1,450.1 641,446.5 640.9,442.9 640.7,439.4 640.6,435.8 640.5,432.2 640.3,428.6 640.1,425 639.9,421.5 639.8,417.9 639.5,414.3 639.3,410.7 639.1,407.2 638.8,403.6 638.5,400 638.2,396.4 637.9,392.9 637.6,389.3 637.2,385.7 636.9,382.1 636.5,378.5 636,375 635.6,371.4 635.1,367.8 634.6,364.2 634.1,360.7 633.6,357.1 633,353.5 632.4,349.9 631.7,346.4 631,342.8 630.3,339.2 629.6,335.6 628.8,332 628,328.5 627.1,324.9 626.2,321.3 625.2,317.7 624.2,314.2 623.2,310.6 622.1,307 620.9,303.4 619.7,299.9 618.5,296.3 617.2,292.7 615.8,289.1 614.4,285.5"/><path d="M652.4,503.7 652.4,500.2 652.5,496.6 652.5,493 652.6,489.4 652.6,485.9 652.7,482.3 652.7,478.7 652.7,475.1 652.8,471.6 652.8,468 652.8,464.4 652.9,460.8 652.9,457.2 652.9,453.7 652.9,450.1 652.9,446.5 652.9,442.9 652.9,439.4 652.8,435.8 652.8,432.2 652.8,428.6 652.7,425 652.7,421.5 652.6,417.9 652.5,414.3 652.4,410.7 652.3,407.2 652.2,403.6 652.1,400 651.9,396.4 651.8,392.9 651.6,389.3 651.4,385.7 651.2,382.1 651,378.5 650.7,375 650.5,371.4 650.2,367.8 649.9,364.2 649.6,360.7 649.2,357.1 648.8,353.5 648.4,349.9 648,346.4 647.6,342.8 647.1,339.2 646.6,335.6 646.1,332 645.5,328.5 644.9,324.9 644.2,321.3 643.6,317.7 642.9,314.2 642.1,310.6 641.3,307 640.5,303.4 639.6,299.9 638.7,296.3 637.8,292.7 636.7,289.1 635.7,285.5 634.6,282 633.4,278.4 632.2,274.8 630.9,271.2 629.6,267.7 628.2,264.1"/><path d="M662.1,503.7 662.2,500.2 662.3,496.6 662.4,493 662.5,489.4 662.6,485.9 662.8,482.3 662.9,478.7 663,475.1 663.1,471.6 663.2,468 663.3,464.4 663.4,460.8 663.5,457.2 663.6,453.7 663.7,450.1 663.8,446.5 663.9,442.9 663.9,439.4 664,435.8 664.1,432.2 664.1,428.6 664.2,425 664.2,421.5 664.3,417.9 664.3,414.3 664.3,410.7 664.3,407.2 664.3,403.6 664.3,400 664.3,396.4 664.3,392.9 664.3,389.3 664.2,385.7 664.1,382.1 664.1,378.5 664,375 663.9,371.4 663.7,367.8 663.6,364.2 663.4,360.7 663.2,357.1 663.1,353.5 662.8,349.9 662.6,346.4 662.3,342.8 662.1,339.2 661.8,335.6 661.4,332 661.1,328.5 660.7,324.9 660.3,321.3 659.8,317.7 659.4,314.2 658.9,310.6 658.3,307 657.8,303.4 657.2,299.9 656.5,296.3 655.9,292.7 655.1,289.1 654.4,285.5 653.6,282 652.7,278.4 651.9,274.8 650.9,271.2 649.9,267.7 648.9,264.1 647.8,260.5 646.7,256.9 645.5,253.4 644.2,249.8 642.9,246.2 641.5,242.6"/><path d="M671.1,503.7 671.2,500.2 671.4,496.6 671.6,493 671.8,489.4 671.9,485.9 672.1,482.3 672.3,478.7 672.5,475.1 672.6,471.6 672.8,468 673,464.4 673.1,460.8 673.3,457.2 673.5,453.7 673.6,450.1 673.8,446.5 674,442.9 674.1,439.4 674.3,435.8 674.4,432.2 674.6,428.6 674.7,425 674.9,421.5 675,417.9 675.1,414.3 675.2,410.7 675.3,407.2 675.4,403.6 675.5,400 675.6,396.4 675.7,392.9 675.8,389.3 675.8,385.7 675.9,382.1 675.9,378.5 676,375 676,371.4 676,367.8 676,364.2 676,360.7 675.9,357.1 675.9,353.5 675.8,349.9 675.7,346.4 675.6,342.8 675.5,339.2 675.4,335.6 675.2,332 675,328.5 674.8,324.9 674.6,321.3 674.4,317.7 674.1,314.2 673.8,310.6 673.5,307 673.2,303.4 672.8,299.9 672.4,296.3 671.9,292.7 671.5,289.1 671,285.5 670.4,282 669.8,278.4 669.2,274.8 668.6,271.2 667.9,267.7 667.2,264.1 666.4,260.5 665.6,256.9 664.7,253.4 663.8,249.8 662.8,246.2 661.8,242.6 660.7,239 659.6,235.5 658.4,231.9 657.1,228.3 655.8,224.7 654.4,221.2"/><path d="M679.5,503.7 679.7,500.2 679.9,496.6 680.1,493 680.3,489.4 680.6,485.9 680.8,482.3 681,478.7 681.2,475.1 681.5,471.6 681.7,468 681.9,464.4 682.2,460.8 682.4,457.2 682.6,453.7 682.9,450.1 683.1,446.5 683.3,442.9 683.5,439.4 683.8,435.8 684,432.2 684.2,428.6 684.4,425 684.6,421.5 684.8,417.9 685,414.3 685.2,410.7 685.4,407.2 685.6,403.6 685.8,400 686,396.4 686.2,392.9 686.3,389.3 686.5,385.7 686.6,382.1 686.8,378.5 686.9,375 687.1,371.4 687.2,367.8 687.3,364.2 687.4,360.7 687.5,357.1 687.5,353.5 687.6,349.9 687.6,346.4 687.7,342.8 687.7,339.2 687.7,335.6 687.7,332 687.7,328.5 687.6,324.9 687.6,321.3 687.5,317.7 687.4,314.2 687.2,310.6 687.1,307 686.9,303.4 686.8,299.9 686.5,296.3 686.3,292.7 686,289.1 685.7,285.5 685.4,282 685.1,278.4 684.7,274.8 684.3,271.2 683.8,267.7 683.4,264.1 682.8,260.5 682.3,256.9 681.7,253.4 681.1,249.8 680.4,246.2 679.7,242.6 678.9,239 678.1,235.5 677.2,231.9 676.3,228.3 675.3,224.7 674.3,221.2 673.2,217.6 672.1,214 670.9,210.4 669.7,206.9 668.3,203.3 666.9,199.7"/><path d="M687.3,503.7 687.6,500.2 687.8,496.6 688.1,493 688.4,489.4 688.6,485.9 688.9,482.3 689.2,478.7 689.4,475.1 689.7,471.6 690,468 690.3,464.4 690.6,460.8 690.8,457.2 691.1,453.7 691.4,450.1 691.7,446.5 692,442.9 692.3,439.4 692.6,435.8 692.8,432.2 693.1,428.6 693.4,425 693.7,421.5 694,417.9 694.2,414.3 694.5,410.7 694.8,407.2 695,403.6 695.3,400 695.6,396.4 695.8,392.9 696.1,389.3 696.3,385.7 696.5,382.1 696.8,378.5 697,375 697.2,371.4 697.4,367.8 697.6,364.2 697.8,360.7 698,357.1 698.2,353.5 698.4,349.9 698.5,346.4 698.7,342.8 698.8,339.2 698.9,335.6 699,332 699.1,328.5 699.2,324.9 699.3,321.3 699.3,317.7 699.4,314.2 699.4,310.6 699.4,307 699.4,303.4 699.4,299.9 699.3,296.3 699.2,292.7 699.2,289.1 699,285.5 698.9,282 698.7,278.4 698.5,274.8 698.3,271.2 698.1,267.7 697.8,264.1 697.5,260.5 697.2,256.9 696.8,253.4 696.4,249.8 696,246.2 695.5,242.6 695,239 694.5,235.5 693.9,231.9 693.3,228.3 692.6,224.7 691.9,221.2 691.1,217.6 690.3,214 689.4,210.4 688.5,206.9 687.5,203.3 686.5,199.7 685.4,196.1 684.3,192.5 683.1,189 681.8,185.4 680.5,181.8 679.1,178.2"/><path d="M694.7,503.7 695,500.2 695.3,496.6 695.6,493 695.9,489.4 696.2,485.9 696.5,482.3 696.8,478.7 697.1,475.1 697.4,471.6 697.8,468 698.1,464.4 698.4,460.8 698.7,457.2 699.1,453.7 699.4,450.1 699.7,446.5 700.1,442.9 700.4,439.4 700.7,435.8 701.1,432.2 701.4,428.6 701.8,425 702.1,421.5 702.4,417.9 702.8,414.3 703.1,410.7 703.4,407.2 703.7,403.6 704.1,400 704.4,396.4 704.7,392.9 705,389.3 705.4,385.7 705.7,382.1 706,378.5 706.3,375 706.6,371.4 706.9,367.8 707.2,364.2 707.4,360.7 707.7,357.1 708,353.5 708.2,349.9 708.5,346.4 708.7,342.8 709,339.2 709.2,335.6 709.4,332 709.6,328.5 709.8,324.9 710,321.3 710.2,317.7 710.3,314.2 710.5,310.6 710.6,307 710.7,303.4 710.8,299.9 710.9,296.3 711,292.7 711,289.1 711.1,285.5 711.1,282 711.1,278.4 711.1,274.8 711,271.2 710.9,267.7 710.8,264.1 710.7,260.5 710.6,256.9 710.4,253.4 710.2,249.8 710,246.2 709.7,242.6 709.5,239 709.1,235.5 708.8,231.9 708.4,228.3 708,224.7 707.5,221.2 707,217.6 706.5,214 705.9,210.4 705.2,206.9 704.6,203.3 703.8,199.7 703.1,196.1 702.2,192.5 701.4,189 700.4,185.4 699.5,181.8 698.4,178.2 697.3,174.7 696.1,171.1 694.9,167.5 693.6,163.9 692.2,160.3"/></g>
<g stroke="#00ff00" stroke-width="0.82" stroke-dasharray="5.5 6"><path d="M108.8,503.7 104.5,500.2 100.3,496.6 96.2,493 92.1,489.4 88,485.9 84,482.3 80,478.7 76.1,475.1 72.3,471.6 68.4,468 64.6,464.4 60.9,460.8 57.2,457.2 53.6,453.7 50,450.1 46.4,446.5 42.9,442.9 39.4,439.4 36,435.8 32.6,432.2 29.3,428.6 26,425 22.7,421.5 19.5,417.9 16.3,414.3 13.2,410.7 10.1,407.2 7.1,403.6 4.1,400 1.1,396.4 -1.8,392.9 -4.7,389.3 -7.6,385.7 -10.4,382.1 -13.1,378.5 -15.8,375 -18.5,371.4 -21.2,367.8 -23.8,364.2 -26.4,360.7 -28.9,357.1 -31.4,353.5 -33.8,349.9 -36.3,346.4 -38.6,342.8 -41,339.2 -43.3,335.6 -45.5,332 -47.8,328.5 -50,324.9 -52.1,321.3 -54.3,317.7 -56.3,314.2 -58.4,310.6 -60.4,307 -62.4,303.4 -64.3,299.9 -66.2,296.3 -68.1,292.7 -70,289.1 -71.8,285.5 -73.5,282 -75.3,278.4 -77,274.8"/><path d="M174.8,503.7 170.5,500.2 166.2,496.6 161.8,493 159.2,489.4 154.8,485.9 150.4,482.3 146.1,478.7 141.8,475.1 137.6,471.6 133.4,468 129.2,464.4 125.1,460.8 121.1,457.2 117.1,453.7 113.1,450.1 109.2,446.5 105.3,442.9 101.5,439.4 97.8,435.8 94,432.2 90.3,428.6 86.7,425 83.1,421.5 79.6,417.9 76,414.3 72.6,410.7 69.2,407.2 65.8,403.6 62.5,400 59.2,396.4 55.9,392.9 52.7,389.3 49.5,385.7 46.4,382.1 43.3,378.5 40.3,375 37.3,371.4 34.3,367.8 31.4,364.2 28.5,360.7 25.7,357.1 22.9,353.5 20.2,349.9 17.4,346.4 14.8,342.8 12.1,339.2 9.5,335.6 7,332 4.4,328.5 1.9,324.9 -0.5,321.3 -2.9,317.7 -5.3,314.2 -7.6,310.6 -9.9,307 -12.2,303.4 -14.4,299.9 -16.6,296.3 -18.8,292.7 -20.9,289.1 -23,285.5 -25,282 -27,278.4 -29,274.8"/><path d="M239.4,503.7 235.1,500.2 230.7,496.6 226.3,493 222,489.4 217.6,485.9 213.3,482.3 208.9,478.7 204.6,475.1 200.3,471.6 196,468 191.8,464.4 187.5,460.8 184.9,457.2 180.6,453.7 176.3,450.1 172,446.5 167.8,442.9 163.6,439.4 159.5,435.8 155.4,432.2 151.4,428.6 147.4,425 143.5,421.5 139.6,417.9 135.8,414.3 132,410.7 128.2,407.2 124.5,403.6 120.8,400 117.2,396.4 113.7,392.9 110.1,389.3 106.6,385.7 103.2,382.1 99.8,378.5 96.4,375 93.1,371.4 89.9,367.8 86.6,364.2 83.4,360.7 80.3,357.1 77.2,353.5 74.1,349.9 71.1,346.4 68.1,342.8 65.2,339.2 62.3,335.6 59.4,332 56.6,328.5 53.9,324.9 51.1,321.3 48.4,317.7 45.8,314.2 43.1,310.6 40.6,307 38,303.4 35.5,299.9 33,296.3 30.6,292.7 28.2,289.1 25.9,285.5 23.5,282 21.3,278.4 19,274.8"/><path d="M299.9,503.7 295.8,500.2 291.6,496.6 287.4,493 283.2,489.4 278.9,485.9 274.7,482.3 270.4,478.7 266.1,475.1 261.8,471.6 257.5,468 253.2,464.4 248.9,460.8 244.6,457.2 240.3,453.7 236.1,450.1 231.8,446.5 227.5,442.9 223.3,439.4 219.1,435.8 214.9,432.2 212.5,428.6 208.1,425 203.9,421.5 199.6,417.9 195.5,414.3 191.3,410.7 187.3,407.2 183.2,403.6 179.2,400 175.3,396.4 171.4,392.9 167.5,389.3 163.7,385.7 160,382.1 156.3,378.5 152.6,375 149,371.4 145.4,367.8 141.8,364.2 138.3,360.7 134.9,357.1 131.5,353.5 128.1,349.9 124.8,346.4 121.5,342.8 118.3,339.2 115.1,335.6 111.9,332 108.8,328.5 105.8,324.9 102.7,321.3 99.8,317.7 96.8,314.2 93.9,310.6 91,307 88.2,303.4 85.4,299.9 82.7,296.3 80,292.7 77.3,289.1 74.7,285.5 72.1,282 69.5,278.4 67,274.8"/><path d="M354.4,503.7 350.7,500.2 347,496.6 343.2,493 339.4,489.4 335.5,485.9 331.6,482.3 327.6,478.7 323.6,475.1 319.6,471.6 315.5,468 311.4,464.4 307.2,460.8 303.1,457.2 298.9,453.7 294.7,450.1 290.5,446.5 286.2,442.9 282,439.4 277.8,435.8 273.5,432.2 269.3,428.6 265.1,425 260.9,421.5 256.7,417.9 252.5,414.3 248.3,410.7 244.2,407.2 240,403.6 237.6,400 233.4,396.4 229.1,392.9 225,389.3 220.8,385.7 216.7,382.1 212.7,378.5 208.7,375 204.8,371.4 200.9,367.8 197.1,364.2 193.2,360.7 189.5,357.1 185.8,353.5 182.1,349.9 178.5,346.4 174.9,342.8 171.4,339.2 167.9,335.6 164.4,332 161,328.5 157.7,324.9 154.4,321.3 151.1,317.7 147.9,314.2 144.7,310.6 141.5,307 138.4,303.4 135.3,299.9 132.3,296.3 129.3,292.7 126.4,289.1 123.5,285.5 120.6,282 117.8,278.4 115,274.8"/><path d="M401.8,503.7 398.8,500.2 395.6,496.6 392.4,493 389.1,489.4 385.8,485.9 382.4,482.3 379,478.7 375.4,475.1 371.9,471.6 368.2,468 364.5,464.4 360.8,460.8 357,457.2 353.1,453.7 349.2,450.1 345.3,446.5 341.3,442.9 337.3,439.4 333.3,435.8 329.2,432.2 325.1,428.6 321,425 316.9,421.5 312.7,417.9 308.6,414.3 304.4,410.7 300.2,407.2 296,403.6 291.9,400 287.7,396.4 283.6,392.9 279.4,389.3 275.3,385.7 271.2,382.1 267.1,378.5 263,375 260.6,371.4 256.4,367.8 252.3,364.2 248.2,360.7 244.1,357.1 240.1,353.5 236.1,349.9 232.2,346.4 228.3,342.8 224.5,339.2 220.7,335.6 216.9,332 213.2,328.5 209.6,324.9 206,321.3 202.4,317.7 198.9,314.2 195.4,310.6 192,307 188.6,303.4 185.3,299.9 182,296.3 178.7,292.7 175.5,289.1 172.3,285.5 169.2,282 166.1,278.4 163,274.8"/><path d="M442.3,503.7 439.9,500.2 437.3,496.6 434.7,493 432,489.4 429.3,485.9 426.5,482.3 423.6,478.7 420.7,475.1 417.7,471.6 414.6,468 411.5,464.4 408.3,460.8 405,457.2 401.7,453.7 398.3,450.1 394.9,446.5 391.3,442.9 387.8,439.4 384.1,435.8 380.5,432.2 376.7,428.6 372.9,425 369.1,421.5 365.2,417.9 361.3,414.3 357.4,410.7 353.4,407.2 349.4,403.6 345.3,400 341.3,396.4 337.2,392.9 333.1,389.3 329,385.7 324.9,382.1 320.8,378.5 316.7,375 312.5,371.4 308.4,367.8 304.4,364.2 300.3,360.7 296.2,357.1 292.2,353.5 288.1,349.9 285.9,346.4 281.7,342.8 277.6,339.2 273.5,335.6 269.4,332 265.4,328.5 261.5,324.9 257.6,321.3 253.8,317.7 249.9,314.2 246.2,310.6 242.5,307 238.8,303.4 235.2,299.9 231.6,296.3 228.1,292.7 224.6,289.1 221.1,285.5 217.7,282 214.3,278.4 211,274.8"/><path d="M476.7,503.7 474.7,500.2 472.7,496.6 470.7,493 468.5,489.4 466.4,485.9 464.1,482.3 461.8,478.7 459.5,475.1 457.1,471.6 454.6,468 452,464.4 449.4,460.8 446.7,457.2 444,453.7 441.2,450.1 438.3,446.5 435.3,442.9 432.3,439.4 429.2,435.8 426.1,432.2 422.9,428.6 419.6,425 416.2,421.5 412.8,417.9 409.3,414.3 405.8,410.7 402.2,407.2 398.6,403.6 394.9,400 391.1,396.4 387.3,392.9 383.5,389.3 379.6,385.7 375.7,382.1 371.8,378.5 367.8,375 363.8,371.4 359.8,367.8 355.8,364.2 351.8,360.7 347.7,357.1 343.7,353.5 339.6,349.9 335.5,346.4 331.5,342.8 327.5,339.2 323.4,335.6 319.4,332 315.4,328.5 311.4,324.9 309.2,321.3 305.1,317.7 301,314.2 296.9,310.6 293,307 289,303.4 285.1,299.9 281.2,296.3 277.4,292.7 273.6,289.1 269.9,285.5 266.2,282 262.6,278.4 259,274.8"/><path d="M505.9,503.7 504.4,500.2 502.8,496.6 501.2,493 499.6,489.4 497.9,485.9 496.1,482.3 494.3,478.7 492.5,475.1 490.6,471.6 488.6,468 486.6,464.4 484.5,460.8 482.4,457.2 480.2,453.7 478,450.1 475.6,446.5 473.3,442.9 470.8,439.4 468.3,435.8 465.7,432.2 463.1,428.6 460.4,425 457.6,421.5 454.7,417.9 451.8,414.3 448.8,410.7 445.7,407.2 442.6,403.6 439.4,400 436.1,396.4 432.8,392.9 429.4,389.3 426,385.7 422.5,382.1 418.9,378.5 415.3,375 411.6,371.4 407.9,367.8 404.1,364.2 400.3,360.7 396.5,357.1 392.6,353.5 388.7,349.9 384.8,346.4 380.8,342.8 376.8,339.2 372.9,335.6 368.9,332 364.9,328.5 360.9,324.9 356.9,321.3 352.9,317.7 348.9,314.2 344.9,310.6 340.9,307 337,303.4 333,299.9 330.9,296.3 326.8,292.7 322.7,289.1 318.7,285.5 314.8,282 310.9,278.4 307,274.8"/><path d="M522.1,478.7 520.7,475.1 519.2,471.6 517.7,468 516.1,464.4 514.5,460.8 512.9,457.2 511.1,453.7 509.4,450.1 507.6,446.5 505.7,442.9 503.8,439.4 501.8,435.8 499.7,432.2 497.6,428.6 495.4,425 493.2,421.5 490.9,417.9 488.5,414.3 486.1,410.7 483.6,407.2 481,403.6 478.4,400 475.7,396.4 472.9,392.9 470.1,389.3 467.1,385.7 464.1,382.1 461.1,378.5 458,375 454.8,371.4 451.5,367.8 448.2,364.2 444.8,360.7 441.3,357.1 437.8,353.5 434.3,349.9 430.6,346.4 427,342.8 423.3,339.2 419.5,335.6 415.7,332 411.9,328.5 408.1,324.9 404.2,321.3 400.3,317.7 396.4,314.2 392.4,310.6 388.5,307 384.5,303.4 380.6,299.9 376.6,296.3 372.7,292.7 368.7,289.1 364.8,285.5 360.9,282 357,278.4 353.1,274.8"/><path d="M534.9,446.5 533.5,442.9 532,439.4 530.4,435.8 528.8,432.2 527.2,428.6 525.5,425 523.8,421.5 522,417.9 520.1,414.3 518.2,410.7 516.2,407.2 514.1,403.6 512,400 509.9,396.4 507.6,392.9 505.3,389.3 503,385.7 500.5,382.1 498,378.5 495.4,375 492.8,371.4 490,367.8 487.2,364.2 484.4,360.7 481.4,357.1 478.4,353.5 475.3,349.9 472.2,346.4 469,342.8 465.7,339.2 462.3,335.6 458.9,332 455.5,328.5 451.9,324.9 448.4,321.3 444.8,317.7 441.1,314.2 437.4,310.6 433.6,307 429.9,303.4 426.1,299.9 422.2,296.3 418.4,292.7 414.5,289.1 410.6,285.5 406.7,282 402.8,278.4 398.9,274.8"/><path d="M548.6,417.9 547.2,414.3 545.7,410.7 544.2,407.2 542.6,403.6 541,400 539.3,396.4 537.5,392.9 535.7,389.3 533.8,385.7 531.9,382.1 529.9,378.5 527.8,375 525.7,371.4 523.5,367.8 521.3,364.2 518.9,360.7 516.5,357.1 514,353.5 511.5,349.9 508.9,346.4 506.2,342.8 503.4,339.2 500.6,335.6 497.7,332 494.7,328.5 491.6,324.9 488.5,321.3 485.3,317.7 482.1,314.2 478.8,310.6 475.4,307 471.9,303.4 468.4,299.9 464.9,296.3 461.3,292.7 457.7,289.1 454,285.5 450.3,282 446.6,278.4 442.8,274.8"/><path d="M561.9,389.3 560.5,385.7 559,382.1 557.4,378.5 555.8,375 554.2,371.4 552.4,367.8 550.7,364.2 548.8,360.7 546.9,357.1 544.9,353.5 542.9,349.9 540.8,346.4 538.6,342.8 536.4,339.2 534.1,335.6 531.7,332 529.2,328.5 526.7,324.9 524.1,321.3 521.4,317.7 518.7,314.2 515.9,310.6 513,307 510,303.4 506.9,299.9 503.8,296.3 500.7,292.7 497.4,289.1 494.1,285.5 490.7,282 487.3,278.4 483.9,274.8"/><path d="M574.7,360.7 573.2,357.1 571.7,353.5 570.1,349.9 568.4,346.4 566.8,342.8 565,339.2 563.2,335.6 561.3,332 559.3,328.5 557.3,324.9 555.2,321.3 553,317.7 550.8,314.2 548.5,310.6 546.1,307 543.6,303.4 541.1,299.9 538.5,296.3 535.8,292.7 533.1,289.1 530.2,285.5 527.3,282 524.4,278.4 521.3,274.8"/><path d="M588.4,335.6 586.9,332 585.4,328.5 583.8,324.9 582.2,321.3 580.5,317.7 578.7,314.2 576.9,310.6 575,307 573.1,303.4 571,299.9 568.9,296.3 566.7,292.7 564.5,289.1 562.2,285.5 559.8,282 557.3,278.4 554.7,274.8"/><path d="M601.6,310.6 600.2,307 598.6,303.4 597.1,299.9 595.4,296.3 593.7,292.7 591.9,289.1 590.1,285.5 588.2,282 586.2,278.4 584.1,274.8"/><path d="M614.4,285.5 612.9,282 611.4,278.4 609.8,274.8"/></g>
<g stroke="#00ff00" stroke-width="0.82" stroke-dasharray="8.5 9"><path d="M-77,274.8 -78.6,271.2 -80.3,267.7 -81.9,264.1 -83.5,260.5 -85,256.9 -86.5,253.4 -88,249.8 -89.4,246.2"/><path d="M-121.6,113.8 -115.8,110.3 -111.5,106.7 -107.2,103.1 -102.9,99.5 -98.6,96 -94.2,92.4 -89.9,88.8 -85.6,85.2 -81.3,81.7 -77,78.1 -72.7,74.5"/><path d="M-29,274.8 -30.9,271.2 -32.8,267.7 -34.7,264.1 -36.5,260.5 -38.3,256.9 -40.1,253.4 -41.8,249.8 -43.5,246.2 -45.2,242.6 -46.8,239 -48.4,235.5 -50,231.9 -51.5,228.3 -53,224.7 -54.5,221.2 -55.9,217.6"/><path d="M-87.6,88.8 -85.6,85.2 -81.3,81.7 -77,78.1 -72.7,74.5"/><path d="M19,274.8 16.8,271.2 14.6,267.7 12.5,264.1 10.4,260.5 8.3,256.9 6.3,253.4 4.3,249.8 2.4,246.2 0.5,242.6 -1.4,239 -3.3,235.5 -5.1,231.9 -6.9,228.3 -8.6,224.7 -10.4,221.2 -12,217.6 -13.7,214 -15.3,210.4 -16.9,206.9 -18.4,203.3 -19.9,199.7 -21.4,196.1 -22.9,192.5"/><path d="M67,274.8 64.5,271.2 62.1,267.7 59.7,264.1 57.3,260.5 55,256.9 52.7,253.4 50.5,249.8 48.3,246.2 46.1,242.6 43.9,239 41.8,235.5 39.8,231.9 37.7,228.3 35.7,224.7 33.8,221.2 31.8,217.6 30,214 28.1,210.4 26.3,206.9 24.5,203.3 22.7,199.7 21,196.1 19.3,192.5 17.7,189 16,185.4 14.4,181.8 12.9,178.2 11.4,174.7 9.9,171.1 8.4,167.5"/><path d="M115,274.8 112.3,271.2 109.6,267.7 106.9,264.1 104.3,260.5 101.7,256.9 99.1,253.4 96.6,249.8 94.2,246.2 91.7,242.6 89.3,239 87,235.5 84.7,231.9 82.4,228.3 80.1,224.7 77.9,221.2 75.7,217.6 73.6,214 71.5,210.4 69.4,206.9 67.4,203.3 65.4,199.7 63.4,196.1 61.5,192.5 59.6,189 57.8,185.4 55.9,181.8 54.2,178.2 52.4,174.7 50.7,171.1 49,167.5 47.3,163.9 45.7,160.3 44.1,156.8 42.6,153.2 41.1,149.6 39.6,146 38.1,142.5"/><path d="M163,274.8 160,271.2 157,267.7 154.1,264.1 151.2,260.5 148.4,256.9 145.6,253.4 142.8,249.8 140.1,246.2 137.4,242.6 134.7,239 132.1,235.5 129.5,231.9 127,228.3 124.5,224.7 122,221.2 119.6,217.6 117.2,214 114.9,210.4 112.6,206.9 110.3,203.3 108.1,199.7 105.9,196.1 103.7,192.5 101.6,189 99.5,185.4 97.4,181.8 95.4,178.2 93.4,174.7 91.5,171.1 89.6,167.5 87.7,163.9 85.9,160.3 84,156.8 82.3,153.2 80.5,149.6 78.8,146 77.1,142.5 75.5,138.9 73.9,135.3 72.3,131.7 70.8,128.2 69.3,124.6 67.8,121 66.3,117.4"/><path d="M211,274.8 207.7,271.2 204.5,267.7 201.3,264.1 198.2,260.5 195,256.9 192,253.4 188.9,249.8 186,246.2 183,242.6 180.1,239 177.2,235.5 174.4,231.9 171.6,228.3 168.9,224.7 166.2,221.2 163.5,217.6 160.9,214 158.3,210.4 155.7,206.9 153.2,203.3 150.8,199.7 148.3,196.1 145.9,192.5 143.6,189 141.2,185.4 138.9,181.8 136.7,178.2 134.5,174.7 132.3,171.1 130.2,167.5 128,163.9 126,160.3 123.9,156.8 121.9,153.2 120,149.6 118.1,146 116.2,142.5 114.3,138.9 112.5,135.3 110.7,131.7 108.9,128.2 107.2,124.6 105.5,121 103.9,117.4 102.2,113.8 100.7,110.3 99.1,106.7 97.6,103.1 96.1,99.5 94.6,96"/><path d="M259,274.8 255.5,271.2 252,267.7 248.5,264.1 245.1,260.5 241.7,256.9 238.4,253.4 235.1,249.8 231.9,246.2 228.7,242.6 225.5,239 222.4,235.5 219.3,231.9 216.3,228.3 213.3,224.7 210.3,221.2 207.4,217.6 204.5,214 201.7,210.4 198.9,206.9 196.1,203.3 193.4,199.7 190.8,196.1 188.1,192.5 185.5,189 183,185.4 180.4,181.8 178,178.2 175.5,174.7 173.1,171.1 170.7,167.5 168.4,163.9 166.1,160.3 163.8,156.8 161.6,153.2 159.4,149.6 157.3,146 155.2,142.5 153.1,138.9 151.1,135.3 149.1,131.7 147.1,128.2 145.1,124.6 143.2,121 141.4,117.4 139.5,113.8 137.8,110.3 136,106.7 134.3,103.1 132.6,99.5 130.9,96 129.3,92.4 127.7,88.8 126.1,85.2 124.6,81.7 123.1,78.1 121.6,74.5"/><path d="M307,274.8 303.2,271.2 299.4,267.7 295.7,264.1 292,260.5 288.4,256.9 284.8,253.4 281.3,249.8 277.8,246.2 274.3,242.6 270.9,239 267.5,235.5 264.2,231.9 260.9,228.3 257.6,224.7 254.4,221.2 251.3,217.6 248.2,214 245.1,210.4 242.1,206.9 239.1,203.3 236.1,199.7 233.2,196.1 230.3,192.5 227.5,189 224.7,185.4 221.9,181.8 219.2,178.2 216.5,174.7 213.9,171.1 211.3,167.5 208.8,163.9 206.2,160.3 203.8,156.8 201.3,153.2 198.9,149.6 196.5,146 194.2,142.5 191.9,138.9 189.6,135.3 187.4,131.7 185.2,128.2 183.1,124.6 181,121 178.9,117.4 176.9,113.8 174.9,110.3 172.9,106.7 170.9,103.1 169,99.5 167.2,96 165.4,92.4 163.6,88.8 161.8,85.2 160.1,81.7 158.4,78.1 156.7,74.5"/><path d="M353.1,274.8 350.9,271.2 346.9,267.7 342.9,264.1 339,260.5 335.1,256.9 331.2,253.4 327.4,249.8 323.7,246.2 319.9,242.6 316.3,239 312.6,235.5 309.1,231.9 305.5,228.3 302,224.7 298.6,221.2 295.2,217.6 291.8,214 288.5,210.4 285.2,206.9 282,203.3 278.8,199.7 275.6,196.1 272.5,192.5 269.4,189 266.4,185.4 263.4,181.8 260.5,178.2 257.6,174.7 254.7,171.1 251.9,167.5 249.1,163.9 246.4,160.3 243.7,156.8 241,153.2 238.4,149.6 235.8,146 233.2,142.5 230.7,138.9 228.2,135.3 225.8,131.7 223.4,128.2 221,124.6 218.7,121 216.4,117.4 214.2,113.8 212,110.3 209.8,106.7 207.6,103.1 205.5,99.5 203.5,96 201.4,92.4 199.4,88.8 197.5,85.2 195.5,81.7 193.6,78.1 191.8,74.5"/><path d="M398.9,274.8 395,271.2 391.1,267.7 387.2,264.1 383.3,260.5 379.5,256.9 375.6,253.4 373.6,249.8 369.5,246.2 365.6,242.6 361.7,239 357.8,235.5 353.9,231.9 350.2,228.3 346.4,224.7 342.7,221.2 339.1,217.6 335.4,214 331.9,210.4 328.4,206.9 324.9,203.3 321.5,199.7 318.1,196.1 314.7,192.5 311.4,189 308.1,185.4 304.9,181.8 301.8,178.2 298.6,174.7 295.5,171.1 292.5,167.5 289.5,163.9 286.5,160.3 283.6,156.8 280.7,153.2 277.8,149.6 275,146 272.2,142.5 269.5,138.9 266.8,135.3 264.2,131.7 261.5,128.2 259,124.6 256.4,121 253.9,117.4 251.5,113.8 249.1,110.3 246.7,106.7 244.3,103.1 242,99.5 239.7,96 237.5,92.4 235.3,88.8 233.1,85.2 231,81.7 228.9,78.1 226.9,74.5"/><path d="M442.8,274.8 439,271.2 435.2,267.7 431.3,264.1 427.5,260.5 423.6,256.9 419.8,253.4 415.9,249.8 412.1,246.2 408.2,242.6 404.4,239 400.6,235.5 396.7,231.9 392.9,228.3 390.8,224.7 386.8,221.2 382.9,217.6 379.1,214 375.3,210.4 371.5,206.9 367.8,203.3 364.1,199.7 360.5,196.1 356.9,192.5 353.4,189 349.9,185.4 346.4,181.8 343,178.2 339.7,174.7 336.3,171.1 333,167.5 329.8,163.9 326.6,160.3 323.5,156.8 320.3,153.2 317.3,149.6 314.2,146 311.3,142.5 308.3,138.9 305.4,135.3 302.5,131.7 299.7,128.2 296.9,124.6 294.2,121 291.5,117.4 288.8,113.8 286.2,110.3 283.6,106.7 281,103.1 278.5,99.5 276,96 273.6,92.4 271.2,88.8 268.8,85.2 266.5,81.7 264.2,78.1 261.9,74.5"/><path d="M483.9,274.8 480.3,271.2 476.8,267.7 473.1,264.1 469.5,260.5 465.8,256.9 462.1,253.4 458.3,249.8 454.6,246.2 450.8,242.6 447,239 443.2,235.5 439.4,231.9 435.6,228.3 431.7,224.7 427.9,221.2 424.1,217.6 420.4,214 416.6,210.4 412.8,206.9 410.7,203.3 406.8,199.7 402.9,196.1 399.1,192.5 395.3,189 391.6,185.4 387.9,181.8 384.3,178.2 380.7,174.7 377.1,171.1 373.6,167.5 370.2,163.9 366.7,160.3 363.4,156.8 360,153.2 356.7,149.6 353.5,146 350.3,142.5 347.1,138.9 344,135.3 340.9,131.7 337.9,128.2 334.9,124.6 331.9,121 329,117.4 326.1,113.8 323.3,110.3 320.5,106.7 317.7,103.1 315,99.5 312.3,96 309.7,92.4 307.1,88.8 304.5,85.2 302,81.7 299.5,78.1 297,74.5"/><path d="M521.3,274.8 518.2,271.2 515,267.7 511.8,264.1 508.5,260.5 505.1,256.9 501.7,253.4 498.2,249.8 494.7,246.2 491.1,242.6 487.5,239 483.9,235.5 480.2,231.9 476.5,228.3 472.8,224.7 469.1,221.2 465.3,217.6 461.6,214 457.8,210.4 454,206.9 450.2,203.3 446.5,199.7 442.7,196.1 439,192.5 435.2,189 431.5,185.4 429.4,181.8 425.5,178.2 421.7,174.7 417.9,171.1 414.2,167.5 410.5,163.9 406.9,160.3 403.3,156.8 399.7,153.2 396.2,149.6 392.7,146 389.3,142.5 385.9,138.9 382.6,135.3 379.3,131.7 376,128.2 372.8,124.6 369.6,121 366.5,117.4 363.4,113.8 360.4,110.3 357.4,106.7 354.4,103.1 351.5,99.5 348.6,96 345.7,92.4 342.9,88.8 340.2,85.2 337.4,81.7 334.8,78.1 332.1,74.5"/><path d="M554.7,274.8 552.1,271.2 549.4,267.7 546.6,264.1 543.8,260.5 540.8,256.9 537.9,253.4 534.8,249.8 531.7,246.2 528.5,242.6 525.2,239 521.9,235.5 518.5,231.9 515.1,228.3 511.6,224.7 508.1,221.2 504.5,217.6 500.9,214 497.3,210.4 493.6,206.9 490,203.3 486.3,199.7 482.5,196.1 478.8,192.5 475.1,189 471.4,185.4 467.6,181.8 463.9,178.2 460.2,174.7 456.5,171.1 452.8,167.5 450.9,163.9 447,160.3 443.2,156.8 439.4,153.2 435.6,149.6 432,146 428.3,142.5 424.7,138.9 421.2,135.3 417.6,131.7 414.2,128.2 410.7,124.6 407.4,121 404,117.4 400.7,113.8 397.5,110.3 394.3,106.7 391.1,103.1 388,99.5 384.9,96 381.8,92.4 378.8,88.8 375.8,85.2 372.9,81.7 370,78.1 367.2,74.5"/><path d="M584.1,274.8 582,271.2 579.8,267.7 577.5,264.1 575.1,260.5 572.7,256.9 570.2,253.4 567.6,249.8 564.9,246.2 562.2,242.6 559.4,239 556.5,235.5 553.5,231.9 550.5,228.3 547.4,224.7 544.2,221.2 541,217.6 537.7,214 534.4,210.4 531,206.9 527.5,203.3 524,199.7 520.5,196.1 516.9,192.5 513.4,189 509.7,185.4 506.1,181.8 502.4,178.2 498.7,174.7 495.1,171.1 491.4,167.5 487.7,163.9 484,160.3 480.3,156.8 476.6,153.2 473,149.6 469.3,146 467.3,142.5 463.5,138.9 459.7,135.3 456,131.7 452.3,128.2 448.7,124.6 445.1,121 441.5,117.4 438,113.8 434.6,110.3 431.1,106.7 427.8,103.1 424.4,99.5 421.1,96 417.9,92.4 414.7,88.8 411.5,85.2 408.4,81.7 405.3,78.1 402.3,74.5"/><path d="M609.8,274.8 608.1,271.2 606.4,267.7 604.5,264.1 602.7,260.5 600.7,256.9 598.7,253.4 596.6,249.8 594.4,246.2 592.1,242.6 589.8,239 587.4,235.5 584.9,231.9 582.3,228.3 579.7,224.7 577,221.2 574.2,217.6 571.3,214 568.4,210.4 565.4,206.9 562.3,203.3 559.1,199.7 555.9,196.1 552.7,192.5 549.4,189 546,185.4 542.6,181.8 539.1,178.2 535.6,174.7 532.1,171.1 528.5,167.5 524.9,163.9 521.3,160.3 517.7,156.8 514,153.2 510.4,149.6 506.7,146 503,142.5 499.4,138.9 495.7,135.3 492.1,131.7 488.5,128.2 486.6,124.6 482.8,121 479.1,117.4 475.3,113.8 471.7,110.3 468,106.7 464.5,103.1 460.9,99.5 457.4,96 454,92.4 450.6,88.8 447.2,85.2 443.9,81.7 440.6,78.1 437.4,74.5"/><path d="M628.2,264.1 626.7,260.5 625.2,256.9 623.6,253.4 622,249.8 620.2,246.2 618.5,242.6 616.6,239 614.7,235.5 612.6,231.9 610.6,228.3 608.4,224.7 606.1,221.2 603.8,217.6 601.4,214 598.9,210.4 596.4,206.9 593.8,203.3 591,199.7 588.3,196.1 585.4,192.5 582.5,189 579.5,185.4 576.4,181.8 573.3,178.2 570.1,174.7 566.8,171.1 563.5,167.5 560.1,163.9 556.7,160.3 553.3,156.8 549.8,153.2 546.3,149.6 542.7,146 539.2,142.5 535.6,138.9 532,135.3 528.4,131.7 524.8,128.2 521.1,124.6 517.5,121 513.9,117.4 510.3,113.8 506.7,110.3 503.1,106.7 501.1,103.1 497.4,99.5 493.7,96 490,92.4 486.4,88.8 482.9,85.2 479.4,81.7 475.9,78.1 472.4,74.5"/><path d="M641.5,242.6 640.1,239 638.6,235.5 637,231.9 635.4,228.3 633.6,224.7 631.9,221.2 630,217.6 628.1,214 626,210.4 624,206.9 621.8,203.3 619.6,199.7 617.2,196.1 614.8,192.5 612.3,189 609.8,185.4 607.1,181.8 604.4,178.2 601.6,174.7 598.8,171.1 595.8,167.5 592.8,163.9 589.8,160.3 586.6,156.8 583.4,153.2 580.2,149.6 576.9,146 573.5,142.5 570.1,138.9 566.7,135.3 563.2,131.7 559.7,128.2 556.2,124.6 552.6,121 549.1,117.4 545.5,113.8 541.9,110.3 538.3,106.7 534.7,103.1 531.2,99.5 527.6,96 524,92.4 520.5,88.8 518.5,85.2 514.8,81.7 511.2,78.1 507.5,74.5"/><path d="M654.4,221.2 653,217.6 651.5,214 649.9,210.4 648.3,206.9 646.5,203.3 644.8,199.7 642.9,196.1 640.9,192.5 638.9,189 636.8,185.4 634.6,181.8 632.4,178.2 630,174.7 627.6,171.1 625.1,167.5 622.5,163.9 619.9,160.3 617.1,156.8 614.3,153.2 611.5,149.6 608.5,146 605.5,142.5 602.4,138.9 599.3,135.3 596,131.7 592.8,128.2 589.5,124.6 586.1,121 582.7,117.4 579.3,113.8 575.8,110.3 572.4,106.7 568.8,103.1 565.3,99.5 561.8,96 558.2,92.4 554.7,88.8 551.1,85.2 547.6,81.7 544,78.1 540.5,74.5"/><path d="M666.9,199.7 665.5,196.1 664,192.5 662.4,189 660.7,185.4 659,181.8 657.2,178.2 655.3,174.7 653.3,171.1 651.3,167.5 649.1,163.9 646.9,160.3 644.6,156.8 642.3,153.2 639.8,149.6 637.3,146 634.7,142.5 632,138.9 629.2,135.3 626.4,131.7 623.5,128.2 620.5,124.6 617.5,121 614.4,117.4 611.2,113.8 608,110.3 604.7,106.7 601.4,103.1 598,99.5 594.6,96 591.2,92.4 587.8,88.8 584.3,85.2 580.8,81.7 577.3,78.1 573.8,74.5"/><path d="M679.1,178.2 677.6,174.7 676,171.1 674.4,167.5 672.7,163.9 671,160.3 669.1,156.8 667.2,153.2 665.2,149.6 663.1,146 660.9,142.5 658.7,138.9 656.3,135.3 653.9,131.7 651.4,128.2 648.9,124.6 646.2,121 643.5,117.4 640.7,113.8 637.8,110.3 634.9,106.7 631.8,103.1 628.8,99.5 625.6,96 622.4,92.4 619.2,88.8 615.9,85.2 612.6,81.7 609.2,78.1 605.8,74.5"/><path d="M692.2,160.3 690.8,156.8 689.3,153.2 687.7,149.6 686,146 684.3,142.5 682.5,138.9 680.6,135.3 678.6,131.7 676.5,128.2 674.4,124.6 672.2,121 669.9,117.4 667.5,113.8 665,110.3 662.5,106.7 659.8,103.1 657.1,99.5 654.4,96 651.5,92.4 648.6,88.8 645.6,85.2 642.5,81.7 639.4,78.1 636.3,74.5"/></g>
<g stroke="#550096" stroke-width="0.79" stroke-dasharray="7.8 9.34" stroke-dashoffset="13.24"><path d="M147.8,503.7 178.3,468 209.1,432.2 240.1,396.4 271.4,360.7 302.8,324.9 334.4,289.1 366.3,253.4 398.3,217.6 430.5,181.8 462.9,146 495.5,110.3 528.3,74.5"/><path d="M194,503.7 223.7,468 253.6,432.2 283.8,396.4 314.3,360.7 345,324.9 375.8,289.1 407,253.4 438.3,217.6 469.8,181.8 501.6,146 533.5,110.3 565.6,74.5"/><path d="M260,503.7 288.4,468 317.2,432.2 346.2,396.4 375.5,360.7 405,324.9 434.8,289.1 464.8,253.4 495.1,217.6 525.6,181.8 556.4,146 587.3,110.3 618.5,74.5"/><path d="M314.2,503.7 341.5,468 369.2,432.2 397.2,396.4 425.5,360.7 454,324.9 482.9,289.1 512,253.4 541.4,217.6 571.1,181.8 601,146 631.2,110.3 661.6,74.5"/><path d="M347.7,503.7 374.3,468 401.4,432.2 428.7,396.4 456.4,360.7 484.3,324.9 512.6,289.1 541.2,253.4 570,217.6 599.1,181.8 628.5,146 658.1,110.3 688,74.5"/><path d="M372.3,503.7 398.5,468 425,432.2 451.9,396.4 479.1,360.7 506.6,324.9 534.4,289.1 562.5,253.4 590.9,217.6 619.7,181.8 648.6,146 677.9,110.3 707.4,74.5"/><path d="M408.4,503.7 433.8,468 459.6,432.2 485.7,396.4 512.2,360.7 539,324.9 566.2,289.1 593.7,253.4 621.5,217.6 649.6,181.8 678,146 706.7,110.3 735.7,74.5"/><path d="M435,503.7 459.8,468 485,432.2 510.6,396.4 536.5,360.7 562.9,324.9 589.5,289.1 616.6,253.4 643.9,217.6 671.6,181.8 699.5,146 727.8,110.3 756.4,74.5"/><path d="M473.8,503.7 497.7,468 522.1,432.2 546.9,396.4 572.1,360.7 597.7,324.9 623.6,289.1 649.9,253.4 676.6,217.6 703.6,181.8 730.9,146 758.5,110.3 786.5,74.5"/><path d="M502.4,503.7 525.7,468 549.4,432.2 573.6,396.4 598.2,360.7 623.2,324.9 648.6,289.1 674.4,253.4 700.5,217.6 727,181.8 753.9,146 781.1,110.3 808.6,74.5"/><path d="M525.2,503.7 547.9,468 571.2,432.2 594.9,396.4 619,360.7 643.5,324.9 668.5,289.1 693.8,253.4 719.6,217.6 745.7,181.8 772.1,146 798.9,110.3 826.1,74.5"/><path d="M544.1,503.7 566.5,468 589.3,432.2 612.6,396.4 636.3,360.7 660.5,324.9 685.1,289.1 710,253.4 735.4,217.6 761.2,181.8 787.3,146 813.8,110.3 840.6,74.5"/><path d="M567.9,503.7 589.6,468 611.9,432.2 634.7,396.4 657.9,360.7 681.6,324.9 705.7,289.1 730.2,253.4 755.2,217.6 780.5,181.8 806.2,146 832.3,110.3 858.8,74.5"/><path d="M599.2,503.7 620.2,468 641.8,432.2 663.9,396.4 686.4,360.7 709.4,324.9 732.9,289.1 756.9,253.4 781.2,217.6 806,181.8 831.2,146 856.7,110.3 882.7,74.5"/><path d="M624.1,503.7 644.5,468 665.5,432.2 687,396.4 709,360.7 731.5,324.9 754.5,289.1 777.9,253.4 801.8,217.6 826.1,181.8 850.9,146 876,110.3 901.5,74.5"/><path d="M644.8,503.7 664.7,468 685.2,432.2 706.2,396.4 727.8,360.7 749.8,324.9 772.4,289.1 795.4,253.4 818.9,217.6 842.9,181.8 867.2,146 892,110.3 917.2,74.5"/><path d="M678,503.7 697,468 716.7,432.2 737,396.4 757.8,360.7 779.2,324.9 801.1,289.1 823.4,253.4 846.3,217.6 869.6,181.8 893.4,146 917.6,110.3 942.2,74.5"/></g>
</g></g>
<g fill="#000"><rect x="87" y="74" width="610" height="1"/><rect x="87" y="201" width="610" height="1"/><rect x="87" y="275" width="610" height="1"/><rect x="87" y="327" width="610" height="1"/><rect x="87" y="368" width="610" height="1"/><rect x="87" y="401" width="610" height="1"/><rect x="87" y="429" width="610" height="1"/><rect x="87" y="453" width="610" height="1"/><rect x="87" y="475" width="610" height="1"/><rect x="87" y="494" width="610" height="1"/><rect x="87" y="503" width="610" height="1"/><rect x="87" y="74" width="1" height="430"/></g>
<path d="M602.5,492.5 H605.4 M598.3,489.5 H605.1 M594.1,487.5 H604.8 M589.8,484.5 H604.5 M585.5,481.5 H604.2 M583.8,478.5 H603.9 M583.2,475.5 H603.6 M582.6,472.5 H603.2 M581.9,468.5 H602.8 M581.2,465.5 H602.4 M580.9,462.5 H602 M580.7,459.5 H601.6 M580.6,455.5 H601.1 M580.3,452.5 H600.7 M580.1,449.5 H600.2 M579.9,445.5 H599.6 M579.7,441.5 H599 M579.5,438.5 H598.4 M579.3,434.5 H597.8 M579,430.5 H597.1 M577.3,426.5 H596.4 M575.2,422.5 H595.6 M573,418.5 H594.8 M570.8,414.5 H593.9 M568.5,409.5 H592.9 M566.2,405.5 H591.9 M563.8,400.5 H590.8 M561.8,396.5 H589.6 M559.8,391.5 H588.3 M557.7,386.5 H586.9 M555.5,381.5 H585.4 M553.3,376.5 H583.7 M551,371.5 H581.9 M548,365.5 H580 M544.1,360.5 H577.8 M540,354.5 H575.5 M535.8,348.5 H572.9 M531.4,342.5 H570.1 M526.9,335.5 H566.9 M522.2,328.5 H563.5 M516.4,322.5 H559.6 M510.1,314.5 H555.3 M503.5,307.5 H550.6 M496.7,299.5 H545.3 M489.5,291.5 H539.3 M482,282.5 H532.7 M474.2,273.5 H525.3 M466,264.5 H517.1 M457.3,254.5 H507.9 M448.2,243.5 H497.7 M439.7,232.5 H486.5 M431,220.5 H474.3 M421.8,208.5 H460.9 M415,194.5 H446.6 M411.4,179.5 H431.2" stroke="#550096" stroke-width="1" fill="none" shape-rendering="crispEdges"/>
<g fill="none" stroke-linejoin="round" shape-rendering="crispEdges">
<path d="M430.9,74.5 404,148.7 416.5,201 446.3,241.8 475.3,275.1 521.3,327.6 549.8,368.3 564.1,401.6 579,429.7 581.1,465.2 584.3,480.4 603.8,493.5" stroke="#ff0000" stroke-width="1.6"/>
<path d="M373.7,74.5 372.6,78.4 372.1,88.9 371,100.9 369.8,115.4 368.9,126.6 367.8,137.9 366.9,149.1 368.8,161.8 371.7,185.4 373.7,201.1 378.6,212.9 384.5,226.6 390.4,240.4 396.3,256.1 405.5,275.5 410.5,291.3 415.4,308.9 420.9,327.6 425.2,342.3 430.7,359 433.7,368.5 442.5,378.9 453.8,391.8 461.8,401.4 474.7,409.5 492.3,419.9 500,424.3 507.2,429.5 541.4,454.3 550,461.4 560,468.6 571.4,475 584.3,483.6 594.3,490.7 603.5,496.5" stroke="#0000ff" stroke-width="1.35"/>
<path d="M604.5,494 604,488.8 603.5,483.5 602.9,478.3 602.3,473 601.7,467.8 601,462.5 600.3,457.3 599.6,452 598.8,446.8 598,441.6 597.1,436.3 596.2,431.1 595.2,425.8 594.2,420.6 593.1,415.3 591.9,410.1 590.7,404.9 589.4,399.6 588,394.4 586.6,389.1 585,383.9 583.4,378.6 581.7,373.4 579.8,368.2 577.9,362.9 575.9,357.7 573.7,352.4 571.4,347.2 569,341.9 566.5,336.7 563.8,331.4 561,326.2 558,321 554.9,315.7 551.6,310.5 548.2,305.2 544.6,300 540.9,294.7 536.9,289.5 532.9,284.2 528.7,279 524.3,273.8 519.7,268.5 515.1,263.3 510.3,258 505.3,252.8 500.3,247.5 495.1,242.3" stroke="#550096" stroke-width="1.4"/>
<path d="M495.1,242.3 489.9,237.1 484.5,231.8 479.2,226.6 473.7,221.3 468.2,216.1 462.7,210.8 457.2,205.6 451.7,200.3 446.2,195.1 440.7,189.9 435.2,184.6 429.8,179.4 424.4,174.1 419.1,168.9 413.9,163.6 408.7,158.4 403.5,153.2 398.5,147.9 393.5,142.7 388.6,137.4 383.7,132.2 379,126.9 374.3,121.7 369.7,116.4 365.2,111.2 360.8,106 356.5,100.7 352.2,95.5 348,90.2 344,85 340,79.7 336,74.5" stroke="#550096" stroke-width="1.9"/>
<path d="M603.6,494 L611.9,497" stroke="#550096" stroke-width="1.9"/>
<rect x="372" y="75" width="3" height="2" fill="#0000ff" stroke="none"/>
</g>
<g filter="url(#th)"><text x="85.00" y="52.00" font-size="16.5" fill="#000" textLength="32.94" lengthAdjust="spacingAndGlyphs" xml:space="preserve">AIRS</text>
<text x="126.66" y="52.00" font-size="16.5" fill="#000" textLength="47.56" lengthAdjust="spacingAndGlyphs" xml:space="preserve">SkewT</text>
<text x="182.77" y="52.00" font-size="16.5" fill="#000" textLength="64.02" lengthAdjust="spacingAndGlyphs" xml:space="preserve">Diagram</text>
<text x="255.65" y="52.00" font-size="16.5" fill="#000" textLength="212.86" lengthAdjust="spacingAndGlyphs" xml:space="preserve">2010−07−31/15:18:25.07</text>
<text x="477.54" y="52.00" font-size="16.5" fill="#000" textLength="70.50" lengthAdjust="spacingAndGlyphs" xml:space="preserve">(Lat/Lon</text>
<text x="556.75" y="52.00" font-size="16.5" fill="#000" textLength="111.25" lengthAdjust="spacingAndGlyphs" xml:space="preserve">15.21/161.02</text>
<text x="676.13" y="52.00" font-size="16.5" fill="#000" textLength="35.27" lengthAdjust="spacingAndGlyphs" xml:space="preserve">deg)</text>
<text x="112.52" y="66.30" font-size="11.3" fill="#ff0000" textLength="30.12" lengthAdjust="spacingAndGlyphs" xml:space="preserve">−120</text>
<text x="180.83" y="66.30" font-size="11.3" fill="#ff0000" textLength="28.78" lengthAdjust="spacingAndGlyphs" xml:space="preserve">−110</text>
<text x="249.18" y="66.30" font-size="11.3" fill="#ff0000" textLength="28.53" lengthAdjust="spacingAndGlyphs" xml:space="preserve">−100</text>
<text x="322.93" y="66.30" font-size="11.3" fill="#ff0000" textLength="22.47" lengthAdjust="spacingAndGlyphs" xml:space="preserve">−90</text>
<text x="391.27" y="66.30" font-size="11.3" fill="#ff0000" textLength="21.73" lengthAdjust="spacingAndGlyphs" xml:space="preserve">−80</text>
<text x="458.88" y="66.30" font-size="11.3" fill="#ff0000" textLength="21.41" lengthAdjust="spacingAndGlyphs" xml:space="preserve">−70</text>
<text x="525.39" y="66.30" font-size="11.3" fill="#ff0000" textLength="23.11" lengthAdjust="spacingAndGlyphs" xml:space="preserve">−60</text>
<text x="593.59" y="66.30" font-size="11.3" fill="#ff0000" textLength="23.22" lengthAdjust="spacingAndGlyphs" xml:space="preserve">−50</text>
<text x="661.51" y="66.30" font-size="11.3" fill="#ff0000" textLength="22.90" lengthAdjust="spacingAndGlyphs" xml:space="preserve">−40</text>
<text x="47.79" y="75.00" font-size="11.4" fill="#000" textLength="19.12" lengthAdjust="spacingAndGlyphs" xml:space="preserve">100</text>
<text x="46.73" y="202.00" font-size="11.4" fill="#000" textLength="20.39" lengthAdjust="spacingAndGlyphs" xml:space="preserve">200</text>
<text x="46.84" y="276.00" font-size="11.4" fill="#000" textLength="20.07" lengthAdjust="spacingAndGlyphs" xml:space="preserve">300</text>
<text x="47.90" y="328.00" font-size="11.4" fill="#000" textLength="19.12" lengthAdjust="spacingAndGlyphs" xml:space="preserve">400</text>
<text x="46.84" y="369.00" font-size="11.4" fill="#000" textLength="20.18" lengthAdjust="spacingAndGlyphs" xml:space="preserve">500</text>
<text x="46.84" y="402.00" font-size="11.4" fill="#000" textLength="20.18" lengthAdjust="spacingAndGlyphs" xml:space="preserve">600</text>
<text x="46.84" y="430.00" font-size="11.4" fill="#000" textLength="20.18" lengthAdjust="spacingAndGlyphs" xml:space="preserve">700</text>
<text x="47.70" y="454.00" font-size="11.4" fill="#000" textLength="19.32" lengthAdjust="spacingAndGlyphs" xml:space="preserve">800</text>
<text x="47.80" y="476.00" font-size="11.4" fill="#000" textLength="19.22" lengthAdjust="spacingAndGlyphs" xml:space="preserve">900</text>
<text x="41.85" y="495.00" font-size="11.4" fill="#000" textLength="26.51" lengthAdjust="spacingAndGlyphs" xml:space="preserve">1000</text>
<text x="701.10" y="84.50" font-size="12.3" fill="#000" textLength="44.84" lengthAdjust="spacingAndGlyphs" xml:space="preserve">TP:100</text>
<text x="699.56" y="100.19" font-size="12.3" fill="#000" textLength="51.86" lengthAdjust="spacingAndGlyphs" xml:space="preserve">MW:N/A</text>
<text x="699.28" y="115.88" font-size="12.3" fill="#000" textLength="53.77" lengthAdjust="spacingAndGlyphs" xml:space="preserve">FRZ:571</text>
<text x="700.00" y="131.57" font-size="12.3" fill="#000" textLength="56.36" lengthAdjust="spacingAndGlyphs" xml:space="preserve">WB0:474</text>
<text x="699.27" y="147.26" font-size="12.3" fill="#000" textLength="60.92" lengthAdjust="spacingAndGlyphs" xml:space="preserve">PW:34.59</text>
<text x="699.56" y="162.95" font-size="12.3" fill="#000" textLength="51.28" lengthAdjust="spacingAndGlyphs" xml:space="preserve">RH:60.4</text>
<text x="698.50" y="178.64" font-size="12.3" fill="#000" textLength="65.97" lengthAdjust="spacingAndGlyphs" xml:space="preserve">MAXT:30.2</text>
<text x="700.40" y="194.33" font-size="12.3" fill="#000" textLength="53.39" lengthAdjust="spacingAndGlyphs" xml:space="preserve">TH:5463</text>
<text x="699.38" y="210.02" font-size="12.3" fill="#000" textLength="50.06" lengthAdjust="spacingAndGlyphs" xml:space="preserve">L57:6.0</text>
<text x="699.47" y="225.71" font-size="12.3" fill="#000" textLength="52.39" lengthAdjust="spacingAndGlyphs" xml:space="preserve">LCL:994</text>
<text x="700.33" y="241.40" font-size="12.3" fill="#000" textLength="48.07" lengthAdjust="spacingAndGlyphs" xml:space="preserve">LI:−4.6</text>
<text x="700.42" y="257.09" font-size="12.3" fill="#000" textLength="37.95" lengthAdjust="spacingAndGlyphs" xml:space="preserve">SI:3.2</text>
<text x="700.60" y="272.78" font-size="12.3" fill="#000" textLength="44.72" lengthAdjust="spacingAndGlyphs" xml:space="preserve">TT:40.1</text>
<text x="700.41" y="288.47" font-size="12.3" fill="#000" textLength="42.15" lengthAdjust="spacingAndGlyphs" xml:space="preserve">KI:297</text>
<text x="699.44" y="304.16" font-size="12.3" fill="#000" textLength="50.56" lengthAdjust="spacingAndGlyphs" xml:space="preserve">SW:N/A</text>
<text x="701.36" y="319.85" font-size="12.3" fill="#000" textLength="36.60" lengthAdjust="spacingAndGlyphs" xml:space="preserve">EI:0.2</text>
<text x="697.67" y="335.54" font-size="12.3" fill="#000" textLength="70.87" lengthAdjust="spacingAndGlyphs" xml:space="preserve">−PARCEL−</text>
<text x="697.70" y="351.23" font-size="12.3" fill="#000" textLength="70.79" lengthAdjust="spacingAndGlyphs" xml:space="preserve">CAPE:2337</text>
<text x="701.04" y="366.92" font-size="12.3" fill="#000" textLength="42.71" lengthAdjust="spacingAndGlyphs" xml:space="preserve">CINH:0</text>
<text x="699.46" y="382.61" font-size="12.3" fill="#000" textLength="52.80" lengthAdjust="spacingAndGlyphs" xml:space="preserve">LCL:994</text>
<text x="699.60" y="398.30" font-size="12.3" fill="#000" textLength="50.58" lengthAdjust="spacingAndGlyphs" xml:space="preserve">CAP:0.0</text>
<text x="699.57" y="413.99" font-size="12.3" fill="#000" textLength="53.12" lengthAdjust="spacingAndGlyphs" xml:space="preserve">LFC:988</text>
<text x="699.84" y="429.68" font-size="12.3" fill="#000" textLength="45.34" lengthAdjust="spacingAndGlyphs" xml:space="preserve">EL:156</text>
<text x="699.61" y="445.37" font-size="12.3" fill="#000" textLength="53.83" lengthAdjust="spacingAndGlyphs" xml:space="preserve">MPL:101</text>
<text x="699.58" y="461.06" font-size="12.3" fill="#000" textLength="52.69" lengthAdjust="spacingAndGlyphs" xml:space="preserve">−WIND−</text>
<text x="702.93" y="476.75" font-size="12.3" fill="#000" textLength="25.14" lengthAdjust="spacingAndGlyphs" xml:space="preserve">NOT</text>
<text x="702.40" y="492.44" font-size="12.3" fill="#000" textLength="32.65" lengthAdjust="spacingAndGlyphs" xml:space="preserve">AVAIL</text>
<text x="117.10" y="116.70" font-size="19.6" fill="#ff0000" textLength="72.99" lengthAdjust="spacingAndGlyphs" xml:space="preserve">Ambient</text>
<text x="200.10" y="116.70" font-size="19.6" fill="#ff0000" textLength="19.36" lengthAdjust="spacingAndGlyphs" xml:space="preserve">Air</text>
<text x="233.80" y="116.70" font-size="19.6" fill="#ff0000" textLength="47.11" lengthAdjust="spacingAndGlyphs" xml:space="preserve">Temp</text>
<text x="117.01" y="137.30" font-size="19.6" fill="#0000ff" textLength="35.18" lengthAdjust="spacingAndGlyphs" xml:space="preserve">Dew</text>
<text x="162.63" y="137.30" font-size="19.6" fill="#0000ff" textLength="46.33" lengthAdjust="spacingAndGlyphs" xml:space="preserve">Point</text>
<text x="218.40" y="137.30" font-size="19.6" fill="#0000ff" textLength="49.25" lengthAdjust="spacingAndGlyphs" xml:space="preserve">Temp</text>
<text x="117.70" y="158.80" font-size="19.6" fill="#550096" textLength="22.26" lengthAdjust="spacingAndGlyphs" xml:space="preserve">Air</text>
<text x="150.00" y="158.80" font-size="19.6" fill="#550096" textLength="55.55" lengthAdjust="spacingAndGlyphs" xml:space="preserve">Parcel</text>
<text x="216.10" y="158.80" font-size="19.6" fill="#550096" textLength="48.94" lengthAdjust="spacingAndGlyphs" xml:space="preserve">Temp</text>
<text x="86.95" y="517.00" font-size="11.3" fill="#ff0000" textLength="22.05" lengthAdjust="spacingAndGlyphs" xml:space="preserve">−50</text>
<text x="154.15" y="517.00" font-size="11.3" fill="#ff0000" textLength="22.05" lengthAdjust="spacingAndGlyphs" xml:space="preserve">−40</text>
<text x="222.03" y="517.00" font-size="11.3" fill="#ff0000" textLength="22.47" lengthAdjust="spacingAndGlyphs" xml:space="preserve">−30</text>
<text x="289.62" y="517.00" font-size="11.3" fill="#ff0000" textLength="22.69" lengthAdjust="spacingAndGlyphs" xml:space="preserve">−20</text>
<text x="357.85" y="517.00" font-size="11.3" fill="#ff0000" textLength="22.05" lengthAdjust="spacingAndGlyphs" xml:space="preserve">−10</text>
<text x="433.50" y="517.00" font-size="11.3" fill="#ff0000" textLength="6.51" lengthAdjust="spacingAndGlyphs" xml:space="preserve">0</text>
<text x="497.87" y="517.00" font-size="11.3" fill="#ff0000" textLength="14.18" lengthAdjust="spacingAndGlyphs" xml:space="preserve">10</text>
<text x="566.20" y="517.00" font-size="11.3" fill="#ff0000" textLength="13.42" lengthAdjust="spacingAndGlyphs" xml:space="preserve">20</text>
<text x="632.67" y="517.00" font-size="11.3" fill="#ff0000" textLength="14.18" lengthAdjust="spacingAndGlyphs" xml:space="preserve">30</text>
<text x="677.20" y="517.00" font-size="11.3" fill="#ff0000" textLength="21.98" lengthAdjust="spacingAndGlyphs" xml:space="preserve">T(C)</text>
<text x="672.52" y="527.00" font-size="11.3" fill="#550096" textLength="36.92" lengthAdjust="spacingAndGlyphs" xml:space="preserve">(g/kg)</text>
</g><g filter="url(#th2)">
<text x="142.35" y="526.83" font-size="11.2" fill="#550096" text-anchor="middle" transform="rotate(-45 142.35 522.80)">0.1</text>
<text x="189.15" y="526.58" font-size="11.2" fill="#550096" text-anchor="middle" transform="rotate(-45 189.15 522.55)">0.2</text>
<text x="254.55" y="526.58" font-size="11.2" fill="#550096" text-anchor="middle" transform="rotate(-45 254.55 522.55)">0.5</text>
<text x="307.70" y="526.63" font-size="11.2" fill="#550096" text-anchor="middle" transform="rotate(-45 307.70 522.60)">1</text>
<text x="340.85" y="525.88" font-size="11.2" fill="#550096" text-anchor="middle" transform="rotate(-45 340.85 521.85)">1.5</text>
<text x="365.65" y="527.68" font-size="11.2" fill="#550096" text-anchor="middle" transform="rotate(-45 365.65 523.65)">2</text>
<text x="400.20" y="527.13" font-size="11.2" fill="#550096" text-anchor="middle" transform="rotate(-45 400.20 523.10)">3</text>
<text x="427.90" y="526.38" font-size="11.2" fill="#550096" text-anchor="middle" transform="rotate(-45 427.90 522.35)">4</text>
<text x="465.55" y="526.93" font-size="11.2" fill="#550096" text-anchor="middle" transform="rotate(-45 465.55 522.90)">6</text>
<text x="494.00" y="526.88" font-size="11.2" fill="#550096" text-anchor="middle" transform="rotate(-45 494.00 522.85)">8</text>
<text x="516.30" y="526.33" font-size="11.2" fill="#550096" text-anchor="middle" transform="rotate(-45 516.30 522.30)">10</text>
<text x="536.20" y="526.33" font-size="11.2" fill="#550096" text-anchor="middle" transform="rotate(-45 536.20 522.30)">12</text>
<text x="559.00" y="526.33" font-size="11.2" fill="#550096" text-anchor="middle" transform="rotate(-45 559.00 522.30)">15</text>
<text x="589.20" y="527.33" font-size="11.2" fill="#550096" text-anchor="middle" transform="rotate(-45 589.20 523.30)">20</text>
<text x="614.00" y="527.48" font-size="11.2" fill="#550096" text-anchor="middle" transform="rotate(-45 614.00 523.45)">25</text>
<text x="634.70" y="527.28" font-size="11.2" fill="#550096" text-anchor="middle" transform="rotate(-45 634.70 523.25)">30</text>
<text x="667.95" y="527.28" font-size="11.2" fill="#550096" text-anchor="middle" transform="rotate(-45 667.95 523.25)">40</text>
</g><g filter="url(#th)">
<text x="0" y="0" font-size="13.6" fill="#000" transform="translate(82,332) rotate(-90)" textLength="104.5" lengthAdjust="spacingAndGlyphs">PRESSURE (MB)</text></g>
</svg></body></html>
